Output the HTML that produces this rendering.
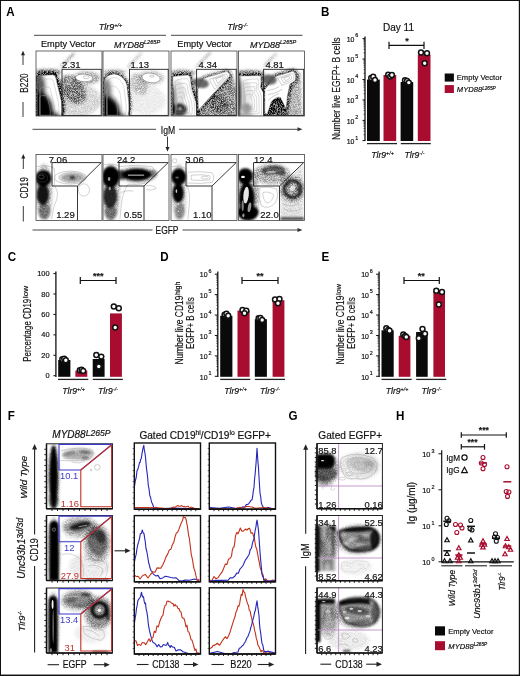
<!DOCTYPE html>
<html><head><meta charset="utf-8"><title>Figure</title>
<style>
html,body{margin:0;padding:0;background:#fff;}
body{width:520px;height:676px;overflow:hidden;font-family:"Liberation Sans", sans-serif;}
#fig{position:absolute;left:0;top:0;width:520px;height:676px;box-sizing:border-box;border:1px solid #111;background:#fff;overflow:hidden;}
svg{position:absolute;left:-1px;top:-1px;filter:blur(0.35px);}
#bb{position:absolute;left:0;right:0;bottom:0;height:1px;background:rgba(17,17,17,0.45);}
#br{position:absolute;top:0;bottom:0;right:0;width:1px;background:rgba(17,17,17,0.2);}
svg text{font-family:"Liberation Sans", sans-serif;}
</style></head><body>
<div id="fig">
<svg width="520" height="676" viewBox="0 0 520 676">
<defs><filter id="sp1" x="-20%" y="-20%" width="140%" height="140%" color-interpolation-filters="sRGB">
<feGaussianBlur in="SourceAlpha" stdDeviation="1.6" result="d"/>
<feTurbulence type="fractalNoise" baseFrequency="1.3" numOctaves="1" seed="4" result="t"/>
<feColorMatrix in="t" type="matrix" values="0 0 0 0 0  0 0 0 0 0  0 0 0 0 0  3.2 0 0 0 -1.1" result="n"/>
<feComposite in="d" in2="n" operator="arithmetic" k1="1.0" k2="0.5" k3="0" k4="0"/>
</filter><filter id="sp2" x="-20%" y="-20%" width="140%" height="140%" color-interpolation-filters="sRGB">
<feGaussianBlur in="SourceAlpha" stdDeviation="1.6" result="d"/>
<feTurbulence type="fractalNoise" baseFrequency="1.3" numOctaves="1" seed="7" result="t"/>
<feColorMatrix in="t" type="matrix" values="0 0 0 0 0  0 0 0 0 0  0 0 0 0 0  3.2 0 0 0 -1.1" result="n"/>
<feComposite in="d" in2="n" operator="arithmetic" k1="1.0" k2="0.5" k3="0" k4="0"/>
</filter><filter id="sp3" x="-20%" y="-20%" width="140%" height="140%" color-interpolation-filters="sRGB">
<feGaussianBlur in="SourceAlpha" stdDeviation="1.6" result="d"/>
<feTurbulence type="fractalNoise" baseFrequency="1.3" numOctaves="1" seed="10" result="t"/>
<feColorMatrix in="t" type="matrix" values="0 0 0 0 0  0 0 0 0 0  0 0 0 0 0  3.2 0 0 0 -1.1" result="n"/>
<feComposite in="d" in2="n" operator="arithmetic" k1="1.0" k2="0.5" k3="0" k4="0"/>
</filter><filter id="sp4" x="-20%" y="-20%" width="140%" height="140%" color-interpolation-filters="sRGB">
<feGaussianBlur in="SourceAlpha" stdDeviation="1.6" result="d"/>
<feTurbulence type="fractalNoise" baseFrequency="1.3" numOctaves="1" seed="13" result="t"/>
<feColorMatrix in="t" type="matrix" values="0 0 0 0 0  0 0 0 0 0  0 0 0 0 0  3.2 0 0 0 -1.1" result="n"/>
<feComposite in="d" in2="n" operator="arithmetic" k1="1.0" k2="0.5" k3="0" k4="0"/>
</filter><filter id="bl05" x="-30%" y="-30%" width="160%" height="160%"><feGaussianBlur stdDeviation="0.5"/></filter><filter id="bl08" x="-30%" y="-30%" width="160%" height="160%"><feGaussianBlur stdDeviation="0.8"/></filter><filter id="bl1" x="-30%" y="-30%" width="160%" height="160%"><feGaussianBlur stdDeviation="1.0"/></filter><filter id="bl15" x="-30%" y="-30%" width="160%" height="160%"><feGaussianBlur stdDeviation="1.5"/></filter><filter id="bl2" x="-30%" y="-30%" width="160%" height="160%"><feGaussianBlur stdDeviation="2.0"/></filter><filter id="bl3" x="-30%" y="-30%" width="160%" height="160%"><feGaussianBlur stdDeviation="3.0"/></filter><clipPath id="cp1"><rect x="36.00" y="51.00" width="66.00" height="65.00"/></clipPath><clipPath id="cp2"><path d="M25,215 Q25,197 45,197 L140,192 Q158,194 162,215 L205,395 Q212,450 203,500 L25,500 Z" transform="translate(34,49) scale(0.13462)"/></clipPath><clipPath id="cp3"><rect x="103.00" y="51.00" width="66.00" height="65.00"/></clipPath><clipPath id="cp4"><path d="M25,240 Q30,190 100,185 Q170,195 192,265 L206,400 Q210,460 200,500 L25,500 Z" transform="translate(101,49) scale(0.13462)"/></clipPath><clipPath id="cp5"><rect x="171.00" y="51.00" width="66.00" height="65.00"/></clipPath><clipPath id="cp6"><path d="M28,215 Q28,200 45,203 L140,193 Q155,195 158,215 L170,300 L200,395 Q210,450 205,500 L28,500 Z" transform="translate(169,49) scale(0.13462)"/></clipPath><clipPath id="cp7"><rect x="238.50" y="51.00" width="66.00" height="65.00"/></clipPath><clipPath id="cp8"><path d="M22,200 L185,198 Q192,240 182,285 L205,330 L208,500 L22,500 Z" transform="translate(236,49) scale(0.13462)"/></clipPath><clipPath id="cp9"><rect x="36.00" y="154.50" width="66.00" height="66.00"/></clipPath><clipPath id="cp10"><rect x="103.00" y="154.50" width="66.00" height="66.00"/></clipPath><clipPath id="cp11"><rect x="171.00" y="154.50" width="66.00" height="66.00"/></clipPath><clipPath id="cp12"><rect x="238.50" y="154.50" width="66.00" height="66.00"/></clipPath><clipPath id="cp13"><rect x="46.50" y="443.80" width="66.00" height="65.00"/></clipPath><clipPath id="cp14"><rect x="46.50" y="515.50" width="66.00" height="65.00"/></clipPath><clipPath id="cp15"><rect x="46.50" y="588.00" width="66.00" height="65.00"/></clipPath><clipPath id="cp16"><rect x="314.80" y="443.50" width="67.60" height="65.20"/></clipPath><clipPath id="cp17"><rect x="314.80" y="515.50" width="67.60" height="65.20"/></clipPath><clipPath id="cp18"><rect x="314.80" y="587.80" width="67.60" height="65.20"/></clipPath></defs>
<text transform="translate(6.30,16.20) scale(0.9,1)" text-anchor="start" fill="#000" stroke="#000" stroke-width="0" style="font-size:12.9px;font-weight:bold;">A</text>
<text transform="translate(320.90,16.20) scale(0.9,1)" text-anchor="start" fill="#000" stroke="#000" stroke-width="0" style="font-size:12.9px;font-weight:bold;">B</text>
<text transform="translate(7.70,260.80) scale(0.9,1)" text-anchor="start" fill="#000" stroke="#000" stroke-width="0" style="font-size:12.9px;font-weight:bold;">C</text>
<text transform="translate(160.30,260.80) scale(0.9,1)" text-anchor="start" fill="#000" stroke="#000" stroke-width="0" style="font-size:12.9px;font-weight:bold;">D</text>
<text transform="translate(321.50,260.80) scale(0.9,1)" text-anchor="start" fill="#000" stroke="#000" stroke-width="0" style="font-size:12.9px;font-weight:bold;">E</text>
<text transform="translate(7.80,420.30) scale(0.9,1)" text-anchor="start" fill="#000" stroke="#000" stroke-width="0" style="font-size:12.9px;font-weight:bold;">F</text>
<text transform="translate(288.40,420.30) scale(0.9,1)" text-anchor="start" fill="#000" stroke="#000" stroke-width="0" style="font-size:12.9px;font-weight:bold;">G</text>
<text transform="translate(395.90,420.30) scale(0.9,1)" text-anchor="start" fill="#000" stroke="#000" stroke-width="0" style="font-size:12.9px;font-weight:bold;">H</text>
<text transform="translate(98.80,30.30)" text-anchor="start" fill="#111" stroke="#111" stroke-width="0.18" style="font-size:9.0px;font-style:italic;"><tspan dy="0.00">Tlr9</tspan><tspan dy="-3.24" style="font-size:5.58px">+/+</tspan></text>
<text transform="translate(227.20,30.30)" text-anchor="start" fill="#111" stroke="#111" stroke-width="0.18" style="font-size:9.0px;font-style:italic;"><tspan dy="0.00">Tlr9</tspan><tspan dy="-3.24" style="font-size:5.58px">-/-</tspan></text>
<line x1="34.00" y1="35.30" x2="166.00" y2="35.30" stroke="#333" stroke-width="0.9" stroke-linecap="butt"/>
<line x1="171.00" y1="35.30" x2="302.50" y2="35.30" stroke="#333" stroke-width="0.9" stroke-linecap="butt"/>
<text transform="translate(68.30,46.60)" text-anchor="middle" fill="#111" stroke="#111" stroke-width="0.18" style="font-size:9.2px;">Empty Vector</text>
<text transform="translate(114.00,47.50)" text-anchor="start" fill="#111" stroke="#111" stroke-width="0.18" style="font-size:9.0px;font-style:italic;"><tspan dy="0.00">MYD88</tspan><tspan dy="-3.24" style="font-size:5.58px">L265P</tspan></text>
<text transform="translate(204.60,46.60)" text-anchor="middle" fill="#111" stroke="#111" stroke-width="0.18" style="font-size:9.2px;">Empty Vector</text>
<text transform="translate(250.00,47.50)" text-anchor="start" fill="#111" stroke="#111" stroke-width="0.18" style="font-size:9.0px;font-style:italic;"><tspan dy="0.00">MYD88</tspan><tspan dy="-3.24" style="font-size:5.58px">L265P</tspan></text>
<text transform="translate(28.20,83.00) rotate(-90) scale(0.74,1)" text-anchor="middle" fill="#111" stroke="#111" stroke-width="0.18" style="font-size:11.2px;">B220</text>
<line x1="23.00" y1="65.00" x2="23.00" y2="54.20" stroke="#222" stroke-width="0.9" stroke-linecap="butt"/>
<path d="M23.00,50.70 L21.00,55.20 L25.00,55.20Z" fill="#222"/>
<line x1="23.00" y1="102.00" x2="23.00" y2="117.00" stroke="#222" stroke-width="0.9" stroke-linecap="butt"/>
<text transform="translate(28.30,187.80) rotate(-90) scale(0.74,1)" text-anchor="middle" fill="#111" stroke="#111" stroke-width="0.18" style="font-size:11.2px;">CD19</text>
<line x1="23.30" y1="169.00" x2="23.30" y2="157.60" stroke="#222" stroke-width="0.9" stroke-linecap="butt"/>
<path d="M23.30,154.10 L21.30,158.60 L25.30,158.60Z" fill="#222"/>
<line x1="23.30" y1="206.00" x2="23.30" y2="221.50" stroke="#222" stroke-width="0.9" stroke-linecap="butt"/>
<line x1="32.50" y1="129.30" x2="156.00" y2="129.30" stroke="#333" stroke-width="0.9" stroke-linecap="butt"/>
<text transform="translate(168.00,133.80) scale(0.8,1)" text-anchor="middle" fill="#111" stroke="#111" stroke-width="0.18" style="font-size:10.8px;">IgM</text>
<line x1="179.00" y1="129.30" x2="298.50" y2="129.30" stroke="#333" stroke-width="0.9" stroke-linecap="butt"/>
<path d="M302.50,129.30 L297.50,127.30 L297.50,131.30Z" fill="#333"/>
<line x1="167.50" y1="136.50" x2="167.50" y2="148.00" stroke="#222" stroke-width="0.9" stroke-linecap="butt"/>
<path d="M167.50,151.50 L165.50,147.00 L169.50,147.00Z" fill="#222"/>
<line x1="32.50" y1="230.00" x2="152.50" y2="230.00" stroke="#333" stroke-width="0.9" stroke-linecap="butt"/>
<text transform="translate(167.00,234.20) scale(0.78,1)" text-anchor="middle" fill="#111" stroke="#111" stroke-width="0.18" style="font-size:10.8px;">EGFP</text>
<line x1="182.50" y1="230.00" x2="298.50" y2="230.00" stroke="#333" stroke-width="0.9" stroke-linecap="butt"/>
<path d="M302.50,230.00 L297.50,228.00 L297.50,232.00Z" fill="#333"/>
<g clip-path="url(#cp1)"><g filter="url(#sp1)"><g transform="translate(34,49) scale(0.13462)"><path d="M25,215 Q25,197 45,197 L140,192 Q158,194 162,215 L205,395 Q212,450 203,500 L25,500 Z" fill="#000" fill-opacity="0.0" stroke="#000" stroke-width="5" vector-effect="non-scaling-stroke" stroke-linejoin="round" stroke-opacity="0.9"/><ellipse cx="290" cy="300" rx="80" ry="120" fill="#000" fill-opacity="0.4" transform="rotate(-35 290 300)"/><ellipse cx="390" cy="215" rx="100" ry="50" fill="#000" fill-opacity="0.28"/><ellipse cx="330" cy="380" rx="170" ry="120" fill="#000" fill-opacity="0.15"/><ellipse cx="100" cy="172" rx="100" ry="22" fill="#000" fill-opacity="0.55"/><path d="M200,135 L300,30" fill="#000" fill-opacity="0" stroke="#000" stroke-width="1.5" vector-effect="non-scaling-stroke" stroke-linejoin="round" stroke-opacity="0.5"/></g></g><g><g transform="translate(34,49) scale(0.13462)"><path d="M25,215 Q25,197 45,197 L140,192 Q158,194 162,215 L205,395 Q212,450 203,500 L25,500 Z" fill="#fff" fill-opacity="1.0" stroke="#777" stroke-width="0.5" vector-effect="non-scaling-stroke" stroke-linejoin="round"/></g></g><g filter="url(#bl2)" clip-path="url(#cp2)"><g transform="translate(34,49) scale(0.13462)"><ellipse cx="30" cy="470" rx="110" ry="150" fill="#000" fill-opacity="1.0"/><ellipse cx="40" cy="300" rx="42" ry="120" fill="#000" fill-opacity="0.7"/><ellipse cx="20" cy="520" rx="180" ry="70" fill="#000" fill-opacity="0.9"/></g></g><g><g transform="translate(34,49) scale(0.13462)"><path d="M45,240 Q50,222 125,222 Q142,225 146,245 L182,400 Q190,450 182,492 L45,492 Z" fill="none" stroke="#aaa" stroke-width="0.4" vector-effect="non-scaling-stroke" transform="translate(40 500) scale(1.0) translate(-40 -500)"/><path d="M45,240 Q50,222 125,222 Q142,225 146,245 L182,400 Q190,450 182,492 L45,492 Z" fill="none" stroke="#aaa" stroke-width="0.4" vector-effect="non-scaling-stroke" transform="translate(40 500) scale(0.78) translate(-40 -500)"/><path d="M45,240 Q50,222 125,222 Q142,225 146,245 L182,400 Q190,450 182,492 L45,492 Z" fill="none" stroke="#aaa" stroke-width="0.4" vector-effect="non-scaling-stroke" transform="translate(40 500) scale(0.56) translate(-40 -500)"/></g></g><g><g transform="translate(34,49) scale(0.13462)"><ellipse cx="372" cy="215" rx="64" ry="28" fill="#fff" fill-opacity="1.0" stroke="#666" stroke-width="0.5" vector-effect="non-scaling-stroke" transform="rotate(4 372 215)"/><ellipse cx="388" cy="210" rx="22" ry="11" fill="none" fill-opacity="1.0" stroke="#888" stroke-width="0.45" vector-effect="non-scaling-stroke"/></g></g></g>
<rect x="36.00" y="51.00" width="66.00" height="65.00" fill="none" stroke="#444" stroke-width="0.8" />
<rect x="62.00" y="69.30" width="39.20" height="46.10" fill="none" stroke="#222" stroke-width="0.9" />
<text transform="translate(80.60,67.90)" text-anchor="end" fill="#111" stroke="#111" stroke-width="0.18" style="font-size:9.5px;">2.31</text>
<g clip-path="url(#cp3)"><g filter="url(#sp2)"><g transform="translate(101,49) scale(0.13462)"><path d="M25,240 Q30,190 100,185 Q170,195 192,265 L206,400 Q210,460 200,500 L25,500 Z" fill="#000" fill-opacity="0.0" stroke="#000" stroke-width="4" vector-effect="non-scaling-stroke" stroke-linejoin="round" stroke-opacity="0.8"/><ellipse cx="280" cy="260" rx="60" ry="85" fill="#000" fill-opacity="0.2" transform="rotate(-30 280 260)"/><ellipse cx="370" cy="215" rx="100" ry="55" fill="#000" fill-opacity="0.18"/><ellipse cx="330" cy="380" rx="150" ry="110" fill="#000" fill-opacity="0.07"/><ellipse cx="100" cy="170" rx="90" ry="18" fill="#000" fill-opacity="0.3"/><path d="M200,135 L300,30" fill="#000" fill-opacity="0" stroke="#000" stroke-width="1.5" vector-effect="non-scaling-stroke" stroke-linejoin="round" stroke-opacity="0.4"/></g></g><g><g transform="translate(101,49) scale(0.13462)"><path d="M25,240 Q30,190 100,185 Q170,195 192,265 L206,400 Q210,460 200,500 L25,500 Z" fill="#fff" fill-opacity="1.0" stroke="#777" stroke-width="0.5" vector-effect="non-scaling-stroke" stroke-linejoin="round"/></g></g><g filter="url(#bl2)" clip-path="url(#cp4)"><g transform="translate(101,49) scale(0.13462)"><ellipse cx="30" cy="480" rx="110" ry="130" fill="#000" fill-opacity="1.0"/><ellipse cx="40" cy="330" rx="36" ry="110" fill="#000" fill-opacity="0.55"/><ellipse cx="20" cy="520" rx="170" ry="60" fill="#000" fill-opacity="0.9"/></g></g><g><g transform="translate(101,49) scale(0.13462)"><path d="M45,260 Q50,215 100,210 Q150,218 170,280 L185,400 Q190,450 182,492 L45,492 Z" fill="none" stroke="#aaa" stroke-width="0.4" vector-effect="non-scaling-stroke" transform="translate(40 500) scale(1.0) translate(-40 -500)"/><path d="M45,260 Q50,215 100,210 Q150,218 170,280 L185,400 Q190,450 182,492 L45,492 Z" fill="none" stroke="#aaa" stroke-width="0.4" vector-effect="non-scaling-stroke" transform="translate(40 500) scale(0.78) translate(-40 -500)"/><path d="M45,260 Q50,215 100,210 Q150,218 170,280 L185,400 Q190,450 182,492 L45,492 Z" fill="none" stroke="#aaa" stroke-width="0.4" vector-effect="non-scaling-stroke" transform="translate(40 500) scale(0.56) translate(-40 -500)"/></g></g><g><g transform="translate(101,49) scale(0.13462)"><ellipse cx="372" cy="215" rx="68" ry="35" fill="#fff" fill-opacity="1.0" stroke="#666" stroke-width="0.5" vector-effect="non-scaling-stroke" transform="rotate(8 372 215)"/><ellipse cx="378" cy="202" rx="16" ry="8" fill="none" fill-opacity="1.0" stroke="#888" stroke-width="0.45" vector-effect="non-scaling-stroke"/><ellipse cx="280" cy="312" rx="18" ry="7" fill="#fff" fill-opacity="1.0" stroke="#999" stroke-width="0.4" vector-effect="non-scaling-stroke" transform="rotate(-35 280 312)"/></g></g></g>
<rect x="103.00" y="51.00" width="66.00" height="65.00" fill="none" stroke="#444" stroke-width="0.8" />
<rect x="129.50" y="69.30" width="38.70" height="46.10" fill="none" stroke="#222" stroke-width="0.9" />
<text transform="translate(149.00,67.90)" text-anchor="end" fill="#111" stroke="#111" stroke-width="0.18" style="font-size:9.5px;">1.13</text>
<g clip-path="url(#cp5)"><g filter="url(#sp3)"><g transform="translate(169,49) scale(0.13462)"><path d="M28,215 Q28,200 45,203 L140,193 Q155,195 158,215 L170,300 L200,395 Q210,450 205,500 L28,500 Z" fill="#000" fill-opacity="0.0" stroke="#000" stroke-width="4" vector-effect="non-scaling-stroke" stroke-linejoin="round" stroke-opacity="0.8"/><path d="M330,330 L465,185 L500,300 L500,500 L215,500 L218,455 Z" fill="#000" fill-opacity="0.42"/><ellipse cx="360" cy="400" rx="60" ry="90" fill="#000" fill-opacity="0.25" transform="rotate(-42 360 400)"/><path d="M258,218 L425,168 Q455,175 450,205 L330,330 L218,455 L214,300 Z" fill="#000" fill-opacity="0" stroke="#000" stroke-width="4" vector-effect="non-scaling-stroke" stroke-linejoin="round" stroke-opacity="0.6"/><ellipse cx="100" cy="175" rx="100" ry="20" fill="#000" fill-opacity="0.4"/><path d="M200,135 L310,25" fill="#000" fill-opacity="0" stroke="#000" stroke-width="1.5" vector-effect="non-scaling-stroke" stroke-linejoin="round" stroke-opacity="0.4"/></g></g><g><g transform="translate(169,49) scale(0.13462)"><path d="M28,215 Q28,200 45,203 L140,193 Q155,195 158,215 L170,300 L200,395 Q210,450 205,500 L28,500 Z" fill="#fff" fill-opacity="1.0" stroke="#777" stroke-width="0.5" vector-effect="non-scaling-stroke" stroke-linejoin="round"/><path d="M258,218 L425,168 Q455,175 450,205 L330,330 L218,455 L214,300 Z" fill="#fff" fill-opacity="1.0" stroke="#777" stroke-width="0.5" vector-effect="non-scaling-stroke" stroke-linejoin="round"/></g></g><g filter="url(#bl15)" clip-path="url(#cp6)"><g transform="translate(169,49) scale(0.13462)"><ellipse cx="75" cy="452" rx="58" ry="48" fill="#000" fill-opacity="0.9"/><ellipse cx="18" cy="390" rx="22" ry="120" fill="#000" fill-opacity="0.85"/><ellipse cx="60" cy="330" rx="60" ry="100" fill="#000" fill-opacity="0.12"/></g></g><g filter="url(#bl08)"><g transform="translate(169,49) scale(0.13462)"><ellipse cx="82" cy="442" rx="15" ry="12" fill="#e8e8e8" fill-opacity="0.9"/></g></g><g filter="url(#bl08)"><g transform="translate(169,49) scale(0.13462)"><ellipse cx="235" cy="253" rx="62" ry="36" fill="#555" fill-opacity="0.9" transform="rotate(10 235 253)"/></g></g><g><g transform="translate(169,49) scale(0.13462)"><path d="M45,245 Q45,224 130,220 Q146,224 150,245 Q155,300 166,325 Q185,370 188,400 Q196,450 190,492 L45,492 Z" fill="none" stroke="#a5a5a5" stroke-width="0.4" vector-effect="non-scaling-stroke" transform="translate(70 430) scale(1.0) translate(-70 -430)"/><path d="M45,245 Q45,224 130,220 Q146,224 150,245 Q155,300 166,325 Q185,370 188,400 Q196,450 190,492 L45,492 Z" fill="none" stroke="#a5a5a5" stroke-width="0.4" vector-effect="non-scaling-stroke" transform="translate(70 430) scale(0.84) translate(-70 -430)"/><path d="M45,245 Q45,224 130,220 Q146,224 150,245 Q155,300 166,325 Q185,370 188,400 Q196,450 190,492 L45,492 Z" fill="none" stroke="#a5a5a5" stroke-width="0.4" vector-effect="non-scaling-stroke" transform="translate(70 430) scale(0.68) translate(-70 -430)"/><path d="M45,245 Q45,224 130,220 Q146,224 150,245 Q155,300 166,325 Q185,370 188,400 Q196,450 190,492 L45,492 Z" fill="none" stroke="#a5a5a5" stroke-width="0.4" vector-effect="non-scaling-stroke" transform="translate(70 430) scale(0.52) translate(-70 -430)"/><path d="M45,245 Q45,224 130,220 Q146,224 150,245 Q155,300 166,325 Q185,370 188,400 Q196,450 190,492 L45,492 Z" fill="none" stroke="#a5a5a5" stroke-width="0.4" vector-effect="non-scaling-stroke" transform="translate(70 430) scale(0.36) translate(-70 -430)"/></g></g><g><g transform="translate(169,49) scale(0.13462)"><path d="M300,225 L420,185 Q440,190 435,210 L340,300 Z" fill="none" stroke="#999" stroke-width="0.45" vector-effect="non-scaling-stroke" transform="translate(380 220) scale(1.0) translate(-380 -220)"/><path d="M300,225 L420,185 Q440,190 435,210 L340,300 Z" fill="none" stroke="#999" stroke-width="0.45" vector-effect="non-scaling-stroke" transform="translate(380 220) scale(0.7) translate(-380 -220)"/><path d="M300,225 L420,185 Q440,190 435,210 L340,300 Z" fill="none" stroke="#999" stroke-width="0.45" vector-effect="non-scaling-stroke" transform="translate(380 220) scale(0.42) translate(-380 -220)"/></g></g></g>
<rect x="171.00" y="51.00" width="66.00" height="65.00" fill="none" stroke="#444" stroke-width="0.8" />
<rect x="196.60" y="69.30" width="39.60" height="46.10" fill="none" stroke="#222" stroke-width="0.9" />
<text transform="translate(217.10,67.90)" text-anchor="end" fill="#111" stroke="#111" stroke-width="0.18" style="font-size:9.5px;">4.34</text>
<g clip-path="url(#cp7)"><g filter="url(#sp4)"><g transform="translate(236,49) scale(0.13462)"><path d="M22,200 L185,198 Q192,240 182,285 L205,330 L208,500 L22,500 Z" fill="#000" fill-opacity="0.0" stroke="#000" stroke-width="4" vector-effect="non-scaling-stroke" stroke-linejoin="round" stroke-opacity="0.8"/><path d="M292,205 L420,165 Q448,172 442,232 L400,262 L382,350 L372,445 L330,360 Q300,350 262,392 L232,482 L214,480 L214,300 Z" fill="#000" fill-opacity="0" stroke="#000" stroke-width="5" vector-effect="non-scaling-stroke" stroke-linejoin="round" stroke-opacity="0.7"/><path d="M262,392 Q300,350 330,360 L372,445 L395,500 L232,500 Z" fill="#000" fill-opacity="0.7"/><path d="M442,175 L480,180 L490,500 L395,500 L372,445 L382,350 L400,262 L442,232 Z" fill="#000" fill-opacity="0.28"/><ellipse cx="100" cy="178" rx="110" ry="20" fill="#000" fill-opacity="0.5"/><path d="M210,125 L300,35" fill="#000" fill-opacity="0" stroke="#000" stroke-width="1.5" vector-effect="non-scaling-stroke" stroke-linejoin="round" stroke-opacity="0.4"/></g></g><g><g transform="translate(236,49) scale(0.13462)"><path d="M22,200 L185,198 Q192,240 182,285 L205,330 L208,500 L22,500 Z" fill="#fff" fill-opacity="1.0" stroke="#777" stroke-width="0.5" vector-effect="non-scaling-stroke" stroke-linejoin="round"/><path d="M292,205 L420,165 Q448,172 442,232 L400,262 L382,350 L372,445 L330,360 Q300,350 262,392 L232,482 L214,480 L214,300 Z" fill="#fff" fill-opacity="1.0" stroke="#777" stroke-width="0.5" vector-effect="non-scaling-stroke" stroke-linejoin="round"/></g></g><g filter="url(#bl15)" clip-path="url(#cp8)"><g transform="translate(236,49) scale(0.13462)"><ellipse cx="16" cy="350" rx="22" ry="160" fill="#000" fill-opacity="0.8"/><ellipse cx="80" cy="440" rx="38" ry="36" fill="#000" fill-opacity="0.4"/><ellipse cx="60" cy="490" rx="70" ry="14" fill="#000" fill-opacity="0.35"/><ellipse cx="60" cy="330" rx="60" ry="100" fill="#000" fill-opacity="0.1"/></g></g><g filter="url(#bl08)"><g transform="translate(236,49) scale(0.13462)"><ellipse cx="245" cy="228" rx="58" ry="38" fill="#555" fill-opacity="0.9" transform="rotate(5 245 228)"/></g></g><g><g transform="translate(236,49) scale(0.13462)"><path d="M55,240 Q55,224 165,222 Q174,250 162,290 Q186,330 188,350 L190,492 L55,492 Z" fill="none" stroke="#a5a5a5" stroke-width="0.4" vector-effect="non-scaling-stroke" transform="translate(80 400) scale(1.0) translate(-80 -400)"/><path d="M55,240 Q55,224 165,222 Q174,250 162,290 Q186,330 188,350 L190,492 L55,492 Z" fill="none" stroke="#a5a5a5" stroke-width="0.4" vector-effect="non-scaling-stroke" transform="translate(80 400) scale(0.84) translate(-80 -400)"/><path d="M55,240 Q55,224 165,222 Q174,250 162,290 Q186,330 188,350 L190,492 L55,492 Z" fill="none" stroke="#a5a5a5" stroke-width="0.4" vector-effect="non-scaling-stroke" transform="translate(80 400) scale(0.68) translate(-80 -400)"/><path d="M55,240 Q55,224 165,222 Q174,250 162,290 Q186,330 188,350 L190,492 L55,492 Z" fill="none" stroke="#a5a5a5" stroke-width="0.4" vector-effect="non-scaling-stroke" transform="translate(80 400) scale(0.52) translate(-80 -400)"/><path d="M55,240 Q55,224 165,222 Q174,250 162,290 Q186,330 188,350 L190,492 L55,492 Z" fill="none" stroke="#a5a5a5" stroke-width="0.4" vector-effect="non-scaling-stroke" transform="translate(80 400) scale(0.36) translate(-80 -400)"/></g></g><g><g transform="translate(236,49) scale(0.13462)"><path d="M310,215 L415,182 Q435,188 430,225 L395,250 L340,270 Z" fill="none" stroke="#999" stroke-width="0.45" vector-effect="non-scaling-stroke" transform="translate(380 215) scale(1.0) translate(-380 -215)"/><path d="M310,215 L415,182 Q435,188 430,225 L395,250 L340,270 Z" fill="none" stroke="#999" stroke-width="0.45" vector-effect="non-scaling-stroke" transform="translate(380 215) scale(0.65) translate(-380 -215)"/><path d="M310,215 L415,182 Q435,188 430,225 L395,250 L340,270 Z" fill="none" stroke="#999" stroke-width="0.45" vector-effect="non-scaling-stroke" transform="translate(380 215) scale(0.35) translate(-380 -215)"/></g></g><g><g transform="translate(236,49) scale(0.13462)"><path d="M230,310 Q290,300 320,280 M235,340 Q300,330 345,300 M240,380 Q270,350 320,330" fill="none" fill-opacity="1.0" stroke="#999" stroke-width="0.45" vector-effect="non-scaling-stroke" stroke-linejoin="round"/></g></g></g>
<rect x="238.50" y="51.00" width="66.00" height="65.00" fill="none" stroke="#444" stroke-width="0.8" />
<rect x="263.60" y="69.30" width="40.10" height="46.10" fill="none" stroke="#222" stroke-width="0.9" />
<text transform="translate(283.90,67.90)" text-anchor="end" fill="#111" stroke="#111" stroke-width="0.18" style="font-size:9.5px;">4.81</text>
<g clip-path="url(#cp9)"><g filter="url(#sp1)"><g transform="translate(34,152) scale(0.13462)"><ellipse cx="75" cy="300" rx="60" ry="210" fill="#000" fill-opacity="0.25"/><ellipse cx="285" cy="190" rx="100" ry="38" fill="#000" fill-opacity="0.14"/></g></g><g filter="url(#bl1)"><g transform="translate(34,152) scale(0.13462)"><ellipse cx="70" cy="195" rx="60" ry="60" fill="#000" fill-opacity="1.0"/><ellipse cx="66" cy="315" rx="46" ry="80" fill="#000" fill-opacity="0.9"/><ellipse cx="78" cy="440" rx="45" ry="60" fill="#000" fill-opacity="0.4"/><ellipse cx="285" cy="190" rx="85" ry="30" fill="#000" fill-opacity="0.26"/></g></g><g filter="url(#bl08)"><g transform="translate(34,152) scale(0.13462)"><ellipse cx="285" cy="190" rx="20" ry="14" fill="#000" fill-opacity="0.7"/></g></g><g><g transform="translate(34,152) scale(0.13462)"><ellipse cx="55" cy="185" rx="22" ry="14" fill="none" fill-opacity="1.0" stroke="#777" stroke-width="0.5" vector-effect="non-scaling-stroke"/><ellipse cx="62" cy="192" rx="40" ry="32" fill="none" fill-opacity="1.0" stroke="#555" stroke-width="0.4" vector-effect="non-scaling-stroke"/><path d="M20,110 Q90,90 150,120 Q160,180 150,250 Q200,300 150,400 L130,500" fill="none" fill-opacity="1.0" stroke="#9a9a9a" stroke-width="0.45" vector-effect="non-scaling-stroke" stroke-linejoin="round"/><ellipse cx="270" cy="190" rx="120" ry="48" fill="none" fill-opacity="1.0" stroke="#9a9a9a" stroke-width="0.45" vector-effect="non-scaling-stroke"/><ellipse cx="280" cy="190" rx="95" ry="36" fill="none" fill-opacity="1.0" stroke="#9a9a9a" stroke-width="0.45" vector-effect="non-scaling-stroke"/><ellipse cx="285" cy="190" rx="60" ry="24" fill="none" fill-opacity="1.0" stroke="#9a9a9a" stroke-width="0.45" vector-effect="non-scaling-stroke"/><ellipse cx="370" cy="282" rx="42" ry="46" fill="none" fill-opacity="1.0" stroke="#9a9a9a" stroke-width="0.45" vector-effect="non-scaling-stroke"/></g></g></g>
<rect x="36.00" y="154.50" width="66.00" height="66.00" fill="none" stroke="#444" stroke-width="0.8" />
<path d="M52,162.6 L101.2,162.6 L77.5,186 L52,186 Z M77.5,186 L77.5,220.5" fill="none" stroke="#222" stroke-width="0.9"/>
<text transform="translate(48.70,163.40)" text-anchor="start" fill="#111" stroke="#111" stroke-width="0.18" style="font-size:9.5px;">7.06</text>
<text transform="translate(56.20,218.20)" text-anchor="start" fill="#111" stroke="#111" stroke-width="0.18" style="font-size:9.5px;">1.29</text>
<g clip-path="url(#cp10)"><g filter="url(#sp2)"><g transform="translate(101,152) scale(0.13462)"><ellipse cx="75" cy="300" rx="65" ry="210" fill="#000" fill-opacity="0.25"/><ellipse cx="270" cy="170" rx="140" ry="60" fill="#000" fill-opacity="0.25"/></g></g><g filter="url(#bl1)"><g transform="translate(101,152) scale(0.13462)"><ellipse cx="72" cy="185" rx="64" ry="80" fill="#000" fill-opacity="1.0"/><ellipse cx="68" cy="330" rx="52" ry="85" fill="#000" fill-opacity="0.8"/><ellipse cx="72" cy="450" rx="46" ry="55" fill="#000" fill-opacity="0.42"/><ellipse cx="265" cy="168" rx="108" ry="46" fill="#000" fill-opacity="1.0"/><ellipse cx="150" cy="170" rx="45" ry="36" fill="#000" fill-opacity="0.7"/><ellipse cx="385" cy="160" rx="34" ry="28" fill="#000" fill-opacity="0.4"/></g></g><g filter="url(#bl05)"><g transform="translate(101,152) scale(0.13462)"><path d="M200,172 L320,172" fill="none" fill-opacity="1.0" stroke="#fff" stroke-width="0.8" vector-effect="non-scaling-stroke" stroke-linejoin="round"/><ellipse cx="60" cy="200" rx="10" ry="14" fill="#fff" fill-opacity="0.6"/><ellipse cx="65" cy="270" rx="8" ry="14" fill="#fff" fill-opacity="0.5"/></g></g><g><g transform="translate(101,152) scale(0.13462)"><path d="M20,95 Q100,80 140,110 Q250,90 380,110 Q420,150 390,200 Q330,250 200,240 Q160,300 150,400 L140,500" fill="none" fill-opacity="1.0" stroke="#9a9a9a" stroke-width="0.45" vector-effect="non-scaling-stroke" stroke-linejoin="round"/><path d="M330,250 Q400,245 410,270 Q380,290 340,280" fill="none" fill-opacity="1.0" stroke="#9a9a9a" stroke-width="0.45" vector-effect="non-scaling-stroke" stroke-linejoin="round"/><path d="M150,300 Q200,280 240,290" fill="none" fill-opacity="1.0" stroke="#9a9a9a" stroke-width="0.45" vector-effect="non-scaling-stroke" stroke-linejoin="round"/></g></g></g>
<rect x="103.00" y="154.50" width="66.00" height="66.00" fill="none" stroke="#444" stroke-width="0.8" />
<path d="M119,162.6 L168.2,162.6 L144,186 L119,186 Z M144,186 L144,220.5" fill="none" stroke="#222" stroke-width="0.9"/>
<text transform="translate(116.90,163.40)" text-anchor="start" fill="#111" stroke="#111" stroke-width="0.18" style="font-size:9.5px;">24.2</text>
<text transform="translate(123.90,218.20)" text-anchor="start" fill="#111" stroke="#111" stroke-width="0.18" style="font-size:9.5px;">0.55</text>
<g clip-path="url(#cp11)"><g filter="url(#sp3)"><g transform="translate(169,152) scale(0.13462)"><ellipse cx="72" cy="300" rx="55" ry="210" fill="#000" fill-opacity="0.2"/></g></g><g filter="url(#bl1)"><g transform="translate(169,152) scale(0.13462)"><ellipse cx="72" cy="185" rx="56" ry="62" fill="#000" fill-opacity="1.0"/><ellipse cx="68" cy="305" rx="42" ry="72" fill="#000" fill-opacity="1.0"/><ellipse cx="82" cy="440" rx="36" ry="60" fill="#000" fill-opacity="0.35"/></g></g><g filter="url(#bl05)"><g transform="translate(169,152) scale(0.13462)"><ellipse cx="55" cy="290" rx="6" ry="14" fill="#fff" fill-opacity="0.8"/><ellipse cx="60" cy="190" rx="14" ry="8" fill="#fff" fill-opacity="0.35"/><ellipse cx="68" cy="385" rx="6" ry="8" fill="#fff" fill-opacity="0.7"/><ellipse cx="70" cy="440" rx="5" ry="6" fill="#fff" fill-opacity="0.7"/></g></g><g><g transform="translate(169,152) scale(0.13462)"><path d="M140,150 Q240,140 320,155 Q345,190 320,225 Q240,240 140,230" fill="none" fill-opacity="1.0" stroke="#9a9a9a" stroke-width="0.45" vector-effect="non-scaling-stroke" stroke-linejoin="round"/><path d="M165,172 Q240,165 300,175 Q312,190 300,208 Q240,215 165,208 Z" fill="none" fill-opacity="1.0" stroke="#9a9a9a" stroke-width="0.45" vector-effect="non-scaling-stroke" stroke-linejoin="round"/><ellipse cx="265" cy="190" rx="28" ry="10" fill="none" fill-opacity="1.0" stroke="#9a9a9a" stroke-width="0.45" vector-effect="non-scaling-stroke"/><ellipse cx="42" cy="65" rx="16" ry="16" fill="none" fill-opacity="1.0" stroke="#9a9a9a" stroke-width="0.45" vector-effect="non-scaling-stroke"/><path d="M20,110 Q100,95 130,130 L135,250 Q160,300 150,400 L140,500" fill="none" fill-opacity="1.0" stroke="#9a9a9a" stroke-width="0.45" vector-effect="non-scaling-stroke" stroke-linejoin="round"/></g></g></g>
<rect x="171.00" y="154.50" width="66.00" height="66.00" fill="none" stroke="#444" stroke-width="0.8" />
<path d="M186,162.6 L236.2,162.6 L212,186 L186,186 Z M212,186 L212,220.5" fill="none" stroke="#222" stroke-width="0.9"/>
<text transform="translate(185.20,163.40)" text-anchor="start" fill="#111" stroke="#111" stroke-width="0.18" style="font-size:9.5px;">3.06</text>
<text transform="translate(193.00,218.20)" text-anchor="start" fill="#111" stroke="#111" stroke-width="0.18" style="font-size:9.5px;">1.10</text>
<g clip-path="url(#cp12)"><g filter="url(#sp4)"><g transform="translate(236,152) scale(0.13462)"><path d="M330,260 L500,90 L500,500 L330,500 Z" fill="#000" fill-opacity="0.12"/><ellipse cx="265" cy="165" rx="140" ry="75" fill="#000" fill-opacity="0.3"/><ellipse cx="420" cy="275" rx="95" ry="95" fill="#000" fill-opacity="0.3"/><ellipse cx="90" cy="330" rx="80" ry="200" fill="#000" fill-opacity="0.3"/></g></g><g filter="url(#bl1)"><g transform="translate(236,152) scale(0.13462)"><ellipse cx="68" cy="180" rx="56" ry="60" fill="#000" fill-opacity="1.0"/><ellipse cx="80" cy="350" rx="58" ry="125" fill="#000" fill-opacity="1.0"/><ellipse cx="88" cy="450" rx="80" ry="58" fill="#000" fill-opacity="1.0"/><path d="M330,495 L505,495" fill="none" fill-opacity="1.0" stroke="#000" stroke-width="2.0" vector-effect="non-scaling-stroke" stroke-linejoin="round"/></g></g><g filter="url(#bl08)" opacity="0.85"><g transform="translate(236,152) scale(0.13462)"><path d="M195,135 Q260,95 335,115 Q370,140 350,170 Q300,150 250,160 Q215,170 195,135 Z" fill="#000" fill-opacity="0.55" stroke="#000" stroke-width="1.3" vector-effect="non-scaling-stroke" stroke-linejoin="round"/><ellipse cx="420" cy="275" rx="62" ry="62" fill="none" fill-opacity="1.0" stroke="#000" stroke-width="2.6" vector-effect="non-scaling-stroke"/><ellipse cx="462" cy="280" rx="12" ry="14" fill="#000" fill-opacity="0.9"/><ellipse cx="400" cy="335" rx="16" ry="10" fill="#000" fill-opacity="0.8" transform="rotate(30 400 335)"/><ellipse cx="385" cy="240" rx="10" ry="16" fill="#000" fill-opacity="0.6"/></g></g><g filter="url(#bl05)"><g transform="translate(236,152) scale(0.13462)"><ellipse cx="52" cy="185" rx="14" ry="9" fill="#fff" fill-opacity="0.95"/><ellipse cx="75" cy="320" rx="20" ry="62" fill="#fff" fill-opacity="0.9" transform="rotate(6 75 320)"/><ellipse cx="100" cy="410" rx="12" ry="36" fill="#fff" fill-opacity="0.6" transform="rotate(10 100 410)"/><ellipse cx="50" cy="400" rx="8" ry="40" fill="#fff" fill-opacity="0.5"/><ellipse cx="55" cy="470" rx="8" ry="14" fill="#fff" fill-opacity="0.6"/><ellipse cx="420" cy="270" rx="18" ry="22" fill="#fff" fill-opacity="0.7"/><ellipse cx="260" cy="150" rx="40" ry="8" fill="#fff" fill-opacity="0.5" transform="rotate(-5 260 150)"/></g></g><g><g transform="translate(236,152) scale(0.13462)"><path d="M170,270 Q230,250 300,275 Q320,330 290,380 Q240,430 190,400 Q160,340 170,270 Z M200,300 Q250,290 280,320 Q270,370 230,380 Q195,350 200,300" fill="none" fill-opacity="1.0" stroke="#9a9a9a" stroke-width="0.45" vector-effect="non-scaling-stroke" stroke-linejoin="round"/><path d="M340,380 Q400,420 470,380 M350,420 Q420,460 490,420" fill="none" fill-opacity="1.0" stroke="#9a9a9a" stroke-width="0.45" vector-effect="non-scaling-stroke" stroke-linejoin="round"/></g></g></g>
<rect x="238.50" y="154.50" width="66.00" height="66.00" fill="none" stroke="#444" stroke-width="0.8" />
<path d="M253.5,162.6 L303.7,162.6 L279.5,186 L253.5,186 Z M279.5,186 L279.5,220.5" fill="none" stroke="#222" stroke-width="0.9"/>
<text transform="translate(254.00,163.40)" text-anchor="start" fill="#111" stroke="#111" stroke-width="0.18" style="font-size:9.5px;">12.4</text>
<text transform="translate(260.20,218.20)" text-anchor="start" fill="#111" stroke="#111" stroke-width="0.18" style="font-size:9.5px;">22.0</text>
<text transform="translate(398.50,31.30)" text-anchor="middle" fill="#111" stroke="#111" stroke-width="0.18" style="font-size:10px;">Day 11</text>
<text transform="translate(358.30,37.30)" text-anchor="end" fill="#111" stroke="#111" stroke-width="0.18" style="font-size:5.4px;">6</text>
<text transform="translate(354.30,41.80)" text-anchor="end" fill="#111" stroke="#111" stroke-width="0.18" style="font-size:6.9px;">10</text>
<line x1="362.50" y1="38.60" x2="365.00" y2="38.60" stroke="#111" stroke-width="1.0" stroke-linecap="butt"/>
<text transform="translate(358.30,57.75)" text-anchor="end" fill="#111" stroke="#111" stroke-width="0.18" style="font-size:5.4px;">5</text>
<text transform="translate(354.30,62.25)" text-anchor="end" fill="#111" stroke="#111" stroke-width="0.18" style="font-size:6.9px;">10</text>
<line x1="362.50" y1="59.05" x2="365.00" y2="59.05" stroke="#111" stroke-width="1.0" stroke-linecap="butt"/>
<text transform="translate(358.30,78.20)" text-anchor="end" fill="#111" stroke="#111" stroke-width="0.18" style="font-size:5.4px;">4</text>
<text transform="translate(354.30,82.70)" text-anchor="end" fill="#111" stroke="#111" stroke-width="0.18" style="font-size:6.9px;">10</text>
<line x1="362.50" y1="79.50" x2="365.00" y2="79.50" stroke="#111" stroke-width="1.0" stroke-linecap="butt"/>
<text transform="translate(358.30,98.65)" text-anchor="end" fill="#111" stroke="#111" stroke-width="0.18" style="font-size:5.4px;">3</text>
<text transform="translate(354.30,103.15)" text-anchor="end" fill="#111" stroke="#111" stroke-width="0.18" style="font-size:6.9px;">10</text>
<line x1="362.50" y1="99.95" x2="365.00" y2="99.95" stroke="#111" stroke-width="1.0" stroke-linecap="butt"/>
<text transform="translate(358.30,119.10)" text-anchor="end" fill="#111" stroke="#111" stroke-width="0.18" style="font-size:5.4px;">2</text>
<text transform="translate(354.30,123.60)" text-anchor="end" fill="#111" stroke="#111" stroke-width="0.18" style="font-size:6.9px;">10</text>
<line x1="362.50" y1="120.40" x2="365.00" y2="120.40" stroke="#111" stroke-width="1.0" stroke-linecap="butt"/>
<text transform="translate(358.30,139.55)" text-anchor="end" fill="#111" stroke="#111" stroke-width="0.18" style="font-size:5.4px;">1</text>
<text transform="translate(354.30,144.05)" text-anchor="end" fill="#111" stroke="#111" stroke-width="0.18" style="font-size:6.9px;">10</text>
<line x1="362.50" y1="140.60" x2="365.00" y2="140.60" stroke="#111" stroke-width="1.0" stroke-linecap="butt"/>
<line x1="363.40" y1="52.89" x2="365.00" y2="52.89" stroke="#222" stroke-width="0.6" stroke-linecap="butt"/>
<line x1="363.40" y1="49.29" x2="365.00" y2="49.29" stroke="#222" stroke-width="0.6" stroke-linecap="butt"/>
<line x1="363.40" y1="46.74" x2="365.00" y2="46.74" stroke="#222" stroke-width="0.6" stroke-linecap="butt"/>
<line x1="363.40" y1="44.76" x2="365.00" y2="44.76" stroke="#222" stroke-width="0.6" stroke-linecap="butt"/>
<line x1="363.40" y1="43.14" x2="365.00" y2="43.14" stroke="#222" stroke-width="0.6" stroke-linecap="butt"/>
<line x1="363.40" y1="41.77" x2="365.00" y2="41.77" stroke="#222" stroke-width="0.6" stroke-linecap="butt"/>
<line x1="363.40" y1="40.58" x2="365.00" y2="40.58" stroke="#222" stroke-width="0.6" stroke-linecap="butt"/>
<line x1="363.40" y1="39.54" x2="365.00" y2="39.54" stroke="#222" stroke-width="0.6" stroke-linecap="butt"/>
<line x1="363.40" y1="73.34" x2="365.00" y2="73.34" stroke="#222" stroke-width="0.6" stroke-linecap="butt"/>
<line x1="363.40" y1="69.74" x2="365.00" y2="69.74" stroke="#222" stroke-width="0.6" stroke-linecap="butt"/>
<line x1="363.40" y1="67.19" x2="365.00" y2="67.19" stroke="#222" stroke-width="0.6" stroke-linecap="butt"/>
<line x1="363.40" y1="65.21" x2="365.00" y2="65.21" stroke="#222" stroke-width="0.6" stroke-linecap="butt"/>
<line x1="363.40" y1="63.59" x2="365.00" y2="63.59" stroke="#222" stroke-width="0.6" stroke-linecap="butt"/>
<line x1="363.40" y1="62.22" x2="365.00" y2="62.22" stroke="#222" stroke-width="0.6" stroke-linecap="butt"/>
<line x1="363.40" y1="61.03" x2="365.00" y2="61.03" stroke="#222" stroke-width="0.6" stroke-linecap="butt"/>
<line x1="363.40" y1="59.99" x2="365.00" y2="59.99" stroke="#222" stroke-width="0.6" stroke-linecap="butt"/>
<line x1="363.40" y1="93.79" x2="365.00" y2="93.79" stroke="#222" stroke-width="0.6" stroke-linecap="butt"/>
<line x1="363.40" y1="90.19" x2="365.00" y2="90.19" stroke="#222" stroke-width="0.6" stroke-linecap="butt"/>
<line x1="363.40" y1="87.64" x2="365.00" y2="87.64" stroke="#222" stroke-width="0.6" stroke-linecap="butt"/>
<line x1="363.40" y1="85.66" x2="365.00" y2="85.66" stroke="#222" stroke-width="0.6" stroke-linecap="butt"/>
<line x1="363.40" y1="84.04" x2="365.00" y2="84.04" stroke="#222" stroke-width="0.6" stroke-linecap="butt"/>
<line x1="363.40" y1="82.67" x2="365.00" y2="82.67" stroke="#222" stroke-width="0.6" stroke-linecap="butt"/>
<line x1="363.40" y1="81.48" x2="365.00" y2="81.48" stroke="#222" stroke-width="0.6" stroke-linecap="butt"/>
<line x1="363.40" y1="80.44" x2="365.00" y2="80.44" stroke="#222" stroke-width="0.6" stroke-linecap="butt"/>
<line x1="363.40" y1="114.24" x2="365.00" y2="114.24" stroke="#222" stroke-width="0.6" stroke-linecap="butt"/>
<line x1="363.40" y1="110.64" x2="365.00" y2="110.64" stroke="#222" stroke-width="0.6" stroke-linecap="butt"/>
<line x1="363.40" y1="108.09" x2="365.00" y2="108.09" stroke="#222" stroke-width="0.6" stroke-linecap="butt"/>
<line x1="363.40" y1="106.11" x2="365.00" y2="106.11" stroke="#222" stroke-width="0.6" stroke-linecap="butt"/>
<line x1="363.40" y1="104.49" x2="365.00" y2="104.49" stroke="#222" stroke-width="0.6" stroke-linecap="butt"/>
<line x1="363.40" y1="103.12" x2="365.00" y2="103.12" stroke="#222" stroke-width="0.6" stroke-linecap="butt"/>
<line x1="363.40" y1="101.93" x2="365.00" y2="101.93" stroke="#222" stroke-width="0.6" stroke-linecap="butt"/>
<line x1="363.40" y1="100.89" x2="365.00" y2="100.89" stroke="#222" stroke-width="0.6" stroke-linecap="butt"/>
<line x1="363.40" y1="134.69" x2="365.00" y2="134.69" stroke="#222" stroke-width="0.6" stroke-linecap="butt"/>
<line x1="363.40" y1="131.09" x2="365.00" y2="131.09" stroke="#222" stroke-width="0.6" stroke-linecap="butt"/>
<line x1="363.40" y1="128.54" x2="365.00" y2="128.54" stroke="#222" stroke-width="0.6" stroke-linecap="butt"/>
<line x1="363.40" y1="126.56" x2="365.00" y2="126.56" stroke="#222" stroke-width="0.6" stroke-linecap="butt"/>
<line x1="363.40" y1="124.94" x2="365.00" y2="124.94" stroke="#222" stroke-width="0.6" stroke-linecap="butt"/>
<line x1="363.40" y1="123.57" x2="365.00" y2="123.57" stroke="#222" stroke-width="0.6" stroke-linecap="butt"/>
<line x1="363.40" y1="122.38" x2="365.00" y2="122.38" stroke="#222" stroke-width="0.6" stroke-linecap="butt"/>
<line x1="363.40" y1="121.34" x2="365.00" y2="121.34" stroke="#222" stroke-width="0.6" stroke-linecap="butt"/>
<line x1="365.00" y1="36.50" x2="365.00" y2="141.10" stroke="#111" stroke-width="1.3" stroke-linecap="butt"/>
<rect x="367.00" y="79.60" width="12.80" height="61.40" fill="#0a0a0a" />
<rect x="383.50" y="75.00" width="12.70" height="66.00" fill="#a80c2e" />
<rect x="400.60" y="82.00" width="12.60" height="59.00" fill="#0a0a0a" />
<rect x="417.80" y="54.60" width="12.70" height="86.40" fill="#a80c2e" />
<line x1="367.00" y1="143.60" x2="397.00" y2="143.60" stroke="#222" stroke-width="1.3" stroke-linecap="butt"/>
<line x1="400.80" y1="143.60" x2="430.80" y2="143.60" stroke="#222" stroke-width="1.3" stroke-linecap="butt"/>
<text transform="translate(382.50,157.90)" text-anchor="middle" fill="#111" stroke="#111" stroke-width="0.18" style="font-size:8.6px;font-style:italic;"><tspan dy="0.00">Tlr9</tspan><tspan dy="-3.10" style="font-size:5.33px">+/+</tspan></text>
<text transform="translate(414.50,157.90)" text-anchor="middle" fill="#111" stroke="#111" stroke-width="0.18" style="font-size:8.6px;font-style:italic;"><tspan dy="0.00">Tlr9</tspan><tspan dy="-3.10" style="font-size:5.33px">-/-</tspan></text>
<line x1="389.00" y1="45.40" x2="424.00" y2="45.40" stroke="#111" stroke-width="1.2" stroke-linecap="butt"/>
<line x1="389.00" y1="41.80" x2="389.00" y2="49.00" stroke="#111" stroke-width="1.2" stroke-linecap="butt"/>
<line x1="424.00" y1="41.80" x2="424.00" y2="49.00" stroke="#111" stroke-width="1.2" stroke-linecap="butt"/>
<text transform="translate(407.00,44.20)" text-anchor="middle" fill="#111" stroke="#111" stroke-width="0.18" style="font-size:9px;font-weight:bold;">*</text>
<circle cx="371.20" cy="78.00" r="2.45" fill="#fff" stroke="#111" stroke-width="1.5"/>
<circle cx="373.20" cy="76.80" r="2.45" fill="#fff" stroke="#111" stroke-width="1.5"/>
<circle cx="375.00" cy="80.00" r="2.45" fill="#fff" stroke="#111" stroke-width="1.5"/>
<circle cx="388.20" cy="74.60" r="2.45" fill="#fff" stroke="#111" stroke-width="1.5"/>
<circle cx="390.20" cy="76.60" r="2.45" fill="#fff" stroke="#111" stroke-width="1.5"/>
<circle cx="391.90" cy="75.00" r="2.45" fill="#fff" stroke="#111" stroke-width="1.5"/>
<circle cx="405.00" cy="80.30" r="2.45" fill="#fff" stroke="#111" stroke-width="1.5"/>
<circle cx="407.00" cy="81.00" r="2.45" fill="#fff" stroke="#111" stroke-width="1.5"/>
<circle cx="408.80" cy="82.60" r="2.45" fill="#fff" stroke="#111" stroke-width="1.5"/>
<circle cx="421.00" cy="52.50" r="2.45" fill="#fff" stroke="#111" stroke-width="1.5"/>
<circle cx="427.00" cy="53.20" r="2.45" fill="#fff" stroke="#111" stroke-width="1.5"/>
<circle cx="424.70" cy="63.20" r="2.45" fill="#fff" stroke="#111" stroke-width="1.5"/>
<text transform="translate(340.30,140.00) rotate(-90) scale(0.7681,1)" text-anchor="start" fill="#111" stroke="#111" stroke-width="0.18" style="font-size:11.0px;">Number live EGFP+ B cells</text>
<rect x="444.70" y="73.50" width="9.20" height="8.10" fill="#0a0a0a" />
<text transform="translate(456.80,80.00)" text-anchor="start" fill="#111" stroke="#111" stroke-width="0.18" style="font-size:7.6px;">Empty Vector</text>
<rect x="444.70" y="85.10" width="9.20" height="7.90" fill="#a80c2e" />
<text transform="translate(456.80,92.30)" text-anchor="start" fill="#111" stroke="#111" stroke-width="0.18" style="font-size:7.6px;font-style:italic;"><tspan dy="0.00">MYD88</tspan><tspan dy="-2.74" style="font-size:4.71px">L265P</tspan></text>
<text transform="translate(49.60,276.15)" text-anchor="end" fill="#111" stroke="#111" stroke-width="0.18" style="font-size:7.4px;">100</text>
<line x1="53.40" y1="273.60" x2="55.90" y2="273.60" stroke="#111" stroke-width="1.0" stroke-linecap="butt"/>
<text transform="translate(49.60,296.57)" text-anchor="end" fill="#111" stroke="#111" stroke-width="0.18" style="font-size:7.4px;">80</text>
<line x1="53.40" y1="294.02" x2="55.90" y2="294.02" stroke="#111" stroke-width="1.0" stroke-linecap="butt"/>
<text transform="translate(49.60,316.99)" text-anchor="end" fill="#111" stroke="#111" stroke-width="0.18" style="font-size:7.4px;">60</text>
<line x1="53.40" y1="314.44" x2="55.90" y2="314.44" stroke="#111" stroke-width="1.0" stroke-linecap="butt"/>
<text transform="translate(49.60,337.41)" text-anchor="end" fill="#111" stroke="#111" stroke-width="0.18" style="font-size:7.4px;">40</text>
<line x1="53.40" y1="334.86" x2="55.90" y2="334.86" stroke="#111" stroke-width="1.0" stroke-linecap="butt"/>
<text transform="translate(49.60,357.83)" text-anchor="end" fill="#111" stroke="#111" stroke-width="0.18" style="font-size:7.4px;">20</text>
<line x1="53.40" y1="355.28" x2="55.90" y2="355.28" stroke="#111" stroke-width="1.0" stroke-linecap="butt"/>
<text transform="translate(49.60,378.25)" text-anchor="end" fill="#111" stroke="#111" stroke-width="0.18" style="font-size:7.4px;">0</text>
<line x1="53.40" y1="375.70" x2="55.90" y2="375.70" stroke="#111" stroke-width="1.0" stroke-linecap="butt"/>
<line x1="55.90" y1="271.50" x2="55.90" y2="376.90" stroke="#111" stroke-width="1.3" stroke-linecap="butt"/>
<rect x="58.20" y="360.00" width="12.20" height="16.80" fill="#0a0a0a" />
<rect x="75.40" y="370.60" width="11.90" height="6.20" fill="#a80c2e" />
<rect x="92.70" y="359.00" width="11.90" height="17.80" fill="#0a0a0a" />
<rect x="110.00" y="313.40" width="11.90" height="63.40" fill="#a80c2e" />
<line x1="58.00" y1="379.40" x2="88.30" y2="379.40" stroke="#222" stroke-width="1.3" stroke-linecap="butt"/>
<line x1="92.80" y1="379.40" x2="122.90" y2="379.40" stroke="#222" stroke-width="1.3" stroke-linecap="butt"/>
<text transform="translate(73.50,393.70)" text-anchor="middle" fill="#111" stroke="#111" stroke-width="0.18" style="font-size:8.6px;font-style:italic;"><tspan dy="0.00">Tlr9</tspan><tspan dy="-3.10" style="font-size:5.33px">+/+</tspan></text>
<text transform="translate(108.00,393.70)" text-anchor="middle" fill="#111" stroke="#111" stroke-width="0.18" style="font-size:8.6px;font-style:italic;"><tspan dy="0.00">Tlr9</tspan><tspan dy="-3.10" style="font-size:5.33px">-/-</tspan></text>
<line x1="80.30" y1="280.50" x2="116.00" y2="280.50" stroke="#111" stroke-width="1.2" stroke-linecap="butt"/>
<line x1="80.30" y1="276.90" x2="80.30" y2="284.10" stroke="#111" stroke-width="1.2" stroke-linecap="butt"/>
<line x1="116.00" y1="276.90" x2="116.00" y2="284.10" stroke="#111" stroke-width="1.2" stroke-linecap="butt"/>
<text transform="translate(98.30,279.30)" text-anchor="middle" fill="#111" stroke="#111" stroke-width="0.18" style="font-size:9px;font-weight:bold;">***</text>
<circle cx="62.30" cy="359.30" r="2.45" fill="#fff" stroke="#111" stroke-width="1.5"/>
<circle cx="64.20" cy="358.60" r="2.45" fill="#fff" stroke="#111" stroke-width="1.5"/>
<circle cx="65.80" cy="360.20" r="2.45" fill="#fff" stroke="#111" stroke-width="1.5"/>
<circle cx="79.80" cy="370.30" r="2.45" fill="#fff" stroke="#111" stroke-width="1.5"/>
<circle cx="81.60" cy="369.60" r="2.45" fill="#fff" stroke="#111" stroke-width="1.5"/>
<circle cx="83.20" cy="370.90" r="2.45" fill="#fff" stroke="#111" stroke-width="1.5"/>
<circle cx="96.30" cy="355.00" r="2.45" fill="#fff" stroke="#111" stroke-width="1.5"/>
<circle cx="101.30" cy="356.60" r="2.45" fill="#fff" stroke="#111" stroke-width="1.5"/>
<circle cx="98.80" cy="366.50" r="2.45" fill="#fff" stroke="#111" stroke-width="1.5"/>
<circle cx="113.80" cy="306.50" r="2.45" fill="#fff" stroke="#111" stroke-width="1.5"/>
<circle cx="118.80" cy="308.30" r="2.45" fill="#fff" stroke="#111" stroke-width="1.5"/>
<circle cx="115.20" cy="327.50" r="2.45" fill="#fff" stroke="#111" stroke-width="1.5"/>
<text transform="translate(31.00,361.70) rotate(-90) scale(0.7271,1)" text-anchor="start" fill="#111" stroke="#111" stroke-width="0.18" style="font-size:10.9px;">Percentage CD19</text>
<text transform="translate(27.80,298.20) rotate(-90) scale(1.2912,1)" text-anchor="start" fill="#111" stroke="#111" stroke-width="0.18" style="font-size:6.4px;">low</text>
<text transform="translate(211.50,272.90)" text-anchor="end" fill="#111" stroke="#111" stroke-width="0.18" style="font-size:5.4px;">6</text>
<text transform="translate(207.50,277.40)" text-anchor="end" fill="#111" stroke="#111" stroke-width="0.18" style="font-size:6.9px;">10</text>
<line x1="214.80" y1="274.20" x2="217.80" y2="274.20" stroke="#111" stroke-width="1.0" stroke-linecap="butt"/>
<text transform="translate(211.50,293.32)" text-anchor="end" fill="#111" stroke="#111" stroke-width="0.18" style="font-size:5.4px;">5</text>
<text transform="translate(207.50,297.82)" text-anchor="end" fill="#111" stroke="#111" stroke-width="0.18" style="font-size:6.9px;">10</text>
<line x1="214.80" y1="294.62" x2="217.80" y2="294.62" stroke="#111" stroke-width="1.0" stroke-linecap="butt"/>
<text transform="translate(211.50,313.74)" text-anchor="end" fill="#111" stroke="#111" stroke-width="0.18" style="font-size:5.4px;">4</text>
<text transform="translate(207.50,318.24)" text-anchor="end" fill="#111" stroke="#111" stroke-width="0.18" style="font-size:6.9px;">10</text>
<line x1="214.80" y1="315.04" x2="217.80" y2="315.04" stroke="#111" stroke-width="1.0" stroke-linecap="butt"/>
<text transform="translate(211.50,334.16)" text-anchor="end" fill="#111" stroke="#111" stroke-width="0.18" style="font-size:5.4px;">3</text>
<text transform="translate(207.50,338.66)" text-anchor="end" fill="#111" stroke="#111" stroke-width="0.18" style="font-size:6.9px;">10</text>
<line x1="214.80" y1="335.46" x2="217.80" y2="335.46" stroke="#111" stroke-width="1.0" stroke-linecap="butt"/>
<text transform="translate(211.50,354.58)" text-anchor="end" fill="#111" stroke="#111" stroke-width="0.18" style="font-size:5.4px;">2</text>
<text transform="translate(207.50,359.08)" text-anchor="end" fill="#111" stroke="#111" stroke-width="0.18" style="font-size:6.9px;">10</text>
<line x1="214.80" y1="355.88" x2="217.80" y2="355.88" stroke="#111" stroke-width="1.0" stroke-linecap="butt"/>
<text transform="translate(211.50,375.00)" text-anchor="end" fill="#111" stroke="#111" stroke-width="0.18" style="font-size:5.4px;">1</text>
<text transform="translate(207.50,379.50)" text-anchor="end" fill="#111" stroke="#111" stroke-width="0.18" style="font-size:6.9px;">10</text>
<line x1="214.80" y1="376.30" x2="217.80" y2="376.30" stroke="#111" stroke-width="1.0" stroke-linecap="butt"/>
<line x1="216.20" y1="288.47" x2="217.80" y2="288.47" stroke="#222" stroke-width="0.6" stroke-linecap="butt"/>
<line x1="216.20" y1="284.88" x2="217.80" y2="284.88" stroke="#222" stroke-width="0.6" stroke-linecap="butt"/>
<line x1="216.20" y1="282.33" x2="217.80" y2="282.33" stroke="#222" stroke-width="0.6" stroke-linecap="butt"/>
<line x1="216.20" y1="280.35" x2="217.80" y2="280.35" stroke="#222" stroke-width="0.6" stroke-linecap="butt"/>
<line x1="216.20" y1="278.73" x2="217.80" y2="278.73" stroke="#222" stroke-width="0.6" stroke-linecap="butt"/>
<line x1="216.20" y1="277.36" x2="217.80" y2="277.36" stroke="#222" stroke-width="0.6" stroke-linecap="butt"/>
<line x1="216.20" y1="276.18" x2="217.80" y2="276.18" stroke="#222" stroke-width="0.6" stroke-linecap="butt"/>
<line x1="216.20" y1="275.13" x2="217.80" y2="275.13" stroke="#222" stroke-width="0.6" stroke-linecap="butt"/>
<line x1="216.20" y1="308.89" x2="217.80" y2="308.89" stroke="#222" stroke-width="0.6" stroke-linecap="butt"/>
<line x1="216.20" y1="305.30" x2="217.80" y2="305.30" stroke="#222" stroke-width="0.6" stroke-linecap="butt"/>
<line x1="216.20" y1="302.75" x2="217.80" y2="302.75" stroke="#222" stroke-width="0.6" stroke-linecap="butt"/>
<line x1="216.20" y1="300.77" x2="217.80" y2="300.77" stroke="#222" stroke-width="0.6" stroke-linecap="butt"/>
<line x1="216.20" y1="299.15" x2="217.80" y2="299.15" stroke="#222" stroke-width="0.6" stroke-linecap="butt"/>
<line x1="216.20" y1="297.78" x2="217.80" y2="297.78" stroke="#222" stroke-width="0.6" stroke-linecap="butt"/>
<line x1="216.20" y1="296.60" x2="217.80" y2="296.60" stroke="#222" stroke-width="0.6" stroke-linecap="butt"/>
<line x1="216.20" y1="295.55" x2="217.80" y2="295.55" stroke="#222" stroke-width="0.6" stroke-linecap="butt"/>
<line x1="216.20" y1="329.31" x2="217.80" y2="329.31" stroke="#222" stroke-width="0.6" stroke-linecap="butt"/>
<line x1="216.20" y1="325.72" x2="217.80" y2="325.72" stroke="#222" stroke-width="0.6" stroke-linecap="butt"/>
<line x1="216.20" y1="323.17" x2="217.80" y2="323.17" stroke="#222" stroke-width="0.6" stroke-linecap="butt"/>
<line x1="216.20" y1="321.19" x2="217.80" y2="321.19" stroke="#222" stroke-width="0.6" stroke-linecap="butt"/>
<line x1="216.20" y1="319.57" x2="217.80" y2="319.57" stroke="#222" stroke-width="0.6" stroke-linecap="butt"/>
<line x1="216.20" y1="318.20" x2="217.80" y2="318.20" stroke="#222" stroke-width="0.6" stroke-linecap="butt"/>
<line x1="216.20" y1="317.02" x2="217.80" y2="317.02" stroke="#222" stroke-width="0.6" stroke-linecap="butt"/>
<line x1="216.20" y1="315.97" x2="217.80" y2="315.97" stroke="#222" stroke-width="0.6" stroke-linecap="butt"/>
<line x1="216.20" y1="349.73" x2="217.80" y2="349.73" stroke="#222" stroke-width="0.6" stroke-linecap="butt"/>
<line x1="216.20" y1="346.14" x2="217.80" y2="346.14" stroke="#222" stroke-width="0.6" stroke-linecap="butt"/>
<line x1="216.20" y1="343.59" x2="217.80" y2="343.59" stroke="#222" stroke-width="0.6" stroke-linecap="butt"/>
<line x1="216.20" y1="341.61" x2="217.80" y2="341.61" stroke="#222" stroke-width="0.6" stroke-linecap="butt"/>
<line x1="216.20" y1="339.99" x2="217.80" y2="339.99" stroke="#222" stroke-width="0.6" stroke-linecap="butt"/>
<line x1="216.20" y1="338.62" x2="217.80" y2="338.62" stroke="#222" stroke-width="0.6" stroke-linecap="butt"/>
<line x1="216.20" y1="337.44" x2="217.80" y2="337.44" stroke="#222" stroke-width="0.6" stroke-linecap="butt"/>
<line x1="216.20" y1="336.39" x2="217.80" y2="336.39" stroke="#222" stroke-width="0.6" stroke-linecap="butt"/>
<line x1="216.20" y1="370.15" x2="217.80" y2="370.15" stroke="#222" stroke-width="0.6" stroke-linecap="butt"/>
<line x1="216.20" y1="366.56" x2="217.80" y2="366.56" stroke="#222" stroke-width="0.6" stroke-linecap="butt"/>
<line x1="216.20" y1="364.01" x2="217.80" y2="364.01" stroke="#222" stroke-width="0.6" stroke-linecap="butt"/>
<line x1="216.20" y1="362.03" x2="217.80" y2="362.03" stroke="#222" stroke-width="0.6" stroke-linecap="butt"/>
<line x1="216.20" y1="360.41" x2="217.80" y2="360.41" stroke="#222" stroke-width="0.6" stroke-linecap="butt"/>
<line x1="216.20" y1="359.04" x2="217.80" y2="359.04" stroke="#222" stroke-width="0.6" stroke-linecap="butt"/>
<line x1="216.20" y1="357.86" x2="217.80" y2="357.86" stroke="#222" stroke-width="0.6" stroke-linecap="butt"/>
<line x1="216.20" y1="356.81" x2="217.80" y2="356.81" stroke="#222" stroke-width="0.6" stroke-linecap="butt"/>
<line x1="217.80" y1="271.50" x2="217.80" y2="376.90" stroke="#111" stroke-width="1.3" stroke-linecap="butt"/>
<rect x="220.20" y="315.80" width="12.20" height="61.00" fill="#0a0a0a" />
<rect x="237.50" y="310.60" width="12.10" height="66.20" fill="#a80c2e" />
<rect x="254.80" y="319.20" width="12.10" height="57.60" fill="#0a0a0a" />
<rect x="272.60" y="300.20" width="11.80" height="76.60" fill="#a80c2e" />
<line x1="220.20" y1="379.40" x2="250.30" y2="379.40" stroke="#222" stroke-width="1.3" stroke-linecap="butt"/>
<line x1="254.80" y1="379.40" x2="285.00" y2="379.40" stroke="#222" stroke-width="1.3" stroke-linecap="butt"/>
<text transform="translate(235.50,393.70)" text-anchor="middle" fill="#111" stroke="#111" stroke-width="0.18" style="font-size:8.6px;font-style:italic;"><tspan dy="0.00">Tlr9</tspan><tspan dy="-3.10" style="font-size:5.33px">+/+</tspan></text>
<text transform="translate(270.00,393.70)" text-anchor="middle" fill="#111" stroke="#111" stroke-width="0.18" style="font-size:8.6px;font-style:italic;"><tspan dy="0.00">Tlr9</tspan><tspan dy="-3.10" style="font-size:5.33px">-/-</tspan></text>
<line x1="242.00" y1="280.50" x2="278.00" y2="280.50" stroke="#111" stroke-width="1.2" stroke-linecap="butt"/>
<line x1="242.00" y1="276.90" x2="242.00" y2="284.10" stroke="#111" stroke-width="1.2" stroke-linecap="butt"/>
<line x1="278.00" y1="276.90" x2="278.00" y2="284.10" stroke="#111" stroke-width="1.2" stroke-linecap="butt"/>
<text transform="translate(260.00,279.30)" text-anchor="middle" fill="#111" stroke="#111" stroke-width="0.18" style="font-size:9px;font-weight:bold;">**</text>
<circle cx="224.60" cy="314.60" r="2.45" fill="#fff" stroke="#111" stroke-width="1.5"/>
<circle cx="226.40" cy="313.80" r="2.45" fill="#fff" stroke="#111" stroke-width="1.5"/>
<circle cx="228.20" cy="315.80" r="2.45" fill="#fff" stroke="#111" stroke-width="1.5"/>
<circle cx="242.50" cy="310.00" r="2.45" fill="#fff" stroke="#111" stroke-width="1.5"/>
<circle cx="246.30" cy="310.80" r="2.45" fill="#fff" stroke="#111" stroke-width="1.5"/>
<circle cx="244.50" cy="313.30" r="2.45" fill="#fff" stroke="#111" stroke-width="1.5"/>
<circle cx="258.60" cy="318.30" r="2.45" fill="#fff" stroke="#111" stroke-width="1.5"/>
<circle cx="260.40" cy="318.00" r="2.45" fill="#fff" stroke="#111" stroke-width="1.5"/>
<circle cx="262.20" cy="320.00" r="2.45" fill="#fff" stroke="#111" stroke-width="1.5"/>
<circle cx="275.00" cy="299.50" r="2.45" fill="#fff" stroke="#111" stroke-width="1.5"/>
<circle cx="279.50" cy="299.00" r="2.45" fill="#fff" stroke="#111" stroke-width="1.5"/>
<circle cx="278.00" cy="303.30" r="2.45" fill="#fff" stroke="#111" stroke-width="1.5"/>
<text transform="translate(183.30,364.60) rotate(-90) scale(0.77,1)" text-anchor="start" fill="#111" stroke="#111" stroke-width="0.18" style="font-size:11.0px;">Number live CD19</text>
<text transform="translate(180.10,294.90) rotate(-90) scale(1.0991,1)" text-anchor="start" fill="#111" stroke="#111" stroke-width="0.18" style="font-size:6.4px;">high</text>
<text transform="translate(193.70,349.10) rotate(-90) scale(0.7428,1)" text-anchor="start" fill="#111" stroke="#111" stroke-width="0.18" style="font-size:10.7px;">EGFP+ B cells</text>
<text transform="translate(372.80,272.90)" text-anchor="end" fill="#111" stroke="#111" stroke-width="0.18" style="font-size:5.4px;">6</text>
<text transform="translate(368.80,277.40)" text-anchor="end" fill="#111" stroke="#111" stroke-width="0.18" style="font-size:6.9px;">10</text>
<line x1="376.10" y1="274.20" x2="379.10" y2="274.20" stroke="#111" stroke-width="1.0" stroke-linecap="butt"/>
<text transform="translate(372.80,293.32)" text-anchor="end" fill="#111" stroke="#111" stroke-width="0.18" style="font-size:5.4px;">5</text>
<text transform="translate(368.80,297.82)" text-anchor="end" fill="#111" stroke="#111" stroke-width="0.18" style="font-size:6.9px;">10</text>
<line x1="376.10" y1="294.62" x2="379.10" y2="294.62" stroke="#111" stroke-width="1.0" stroke-linecap="butt"/>
<text transform="translate(372.80,313.74)" text-anchor="end" fill="#111" stroke="#111" stroke-width="0.18" style="font-size:5.4px;">4</text>
<text transform="translate(368.80,318.24)" text-anchor="end" fill="#111" stroke="#111" stroke-width="0.18" style="font-size:6.9px;">10</text>
<line x1="376.10" y1="315.04" x2="379.10" y2="315.04" stroke="#111" stroke-width="1.0" stroke-linecap="butt"/>
<text transform="translate(372.80,334.16)" text-anchor="end" fill="#111" stroke="#111" stroke-width="0.18" style="font-size:5.4px;">3</text>
<text transform="translate(368.80,338.66)" text-anchor="end" fill="#111" stroke="#111" stroke-width="0.18" style="font-size:6.9px;">10</text>
<line x1="376.10" y1="335.46" x2="379.10" y2="335.46" stroke="#111" stroke-width="1.0" stroke-linecap="butt"/>
<text transform="translate(372.80,354.58)" text-anchor="end" fill="#111" stroke="#111" stroke-width="0.18" style="font-size:5.4px;">2</text>
<text transform="translate(368.80,359.08)" text-anchor="end" fill="#111" stroke="#111" stroke-width="0.18" style="font-size:6.9px;">10</text>
<line x1="376.10" y1="355.88" x2="379.10" y2="355.88" stroke="#111" stroke-width="1.0" stroke-linecap="butt"/>
<text transform="translate(372.80,375.00)" text-anchor="end" fill="#111" stroke="#111" stroke-width="0.18" style="font-size:5.4px;">1</text>
<text transform="translate(368.80,379.50)" text-anchor="end" fill="#111" stroke="#111" stroke-width="0.18" style="font-size:6.9px;">10</text>
<line x1="376.10" y1="376.30" x2="379.10" y2="376.30" stroke="#111" stroke-width="1.0" stroke-linecap="butt"/>
<line x1="377.50" y1="288.47" x2="379.10" y2="288.47" stroke="#222" stroke-width="0.6" stroke-linecap="butt"/>
<line x1="377.50" y1="284.88" x2="379.10" y2="284.88" stroke="#222" stroke-width="0.6" stroke-linecap="butt"/>
<line x1="377.50" y1="282.33" x2="379.10" y2="282.33" stroke="#222" stroke-width="0.6" stroke-linecap="butt"/>
<line x1="377.50" y1="280.35" x2="379.10" y2="280.35" stroke="#222" stroke-width="0.6" stroke-linecap="butt"/>
<line x1="377.50" y1="278.73" x2="379.10" y2="278.73" stroke="#222" stroke-width="0.6" stroke-linecap="butt"/>
<line x1="377.50" y1="277.36" x2="379.10" y2="277.36" stroke="#222" stroke-width="0.6" stroke-linecap="butt"/>
<line x1="377.50" y1="276.18" x2="379.10" y2="276.18" stroke="#222" stroke-width="0.6" stroke-linecap="butt"/>
<line x1="377.50" y1="275.13" x2="379.10" y2="275.13" stroke="#222" stroke-width="0.6" stroke-linecap="butt"/>
<line x1="377.50" y1="308.89" x2="379.10" y2="308.89" stroke="#222" stroke-width="0.6" stroke-linecap="butt"/>
<line x1="377.50" y1="305.30" x2="379.10" y2="305.30" stroke="#222" stroke-width="0.6" stroke-linecap="butt"/>
<line x1="377.50" y1="302.75" x2="379.10" y2="302.75" stroke="#222" stroke-width="0.6" stroke-linecap="butt"/>
<line x1="377.50" y1="300.77" x2="379.10" y2="300.77" stroke="#222" stroke-width="0.6" stroke-linecap="butt"/>
<line x1="377.50" y1="299.15" x2="379.10" y2="299.15" stroke="#222" stroke-width="0.6" stroke-linecap="butt"/>
<line x1="377.50" y1="297.78" x2="379.10" y2="297.78" stroke="#222" stroke-width="0.6" stroke-linecap="butt"/>
<line x1="377.50" y1="296.60" x2="379.10" y2="296.60" stroke="#222" stroke-width="0.6" stroke-linecap="butt"/>
<line x1="377.50" y1="295.55" x2="379.10" y2="295.55" stroke="#222" stroke-width="0.6" stroke-linecap="butt"/>
<line x1="377.50" y1="329.31" x2="379.10" y2="329.31" stroke="#222" stroke-width="0.6" stroke-linecap="butt"/>
<line x1="377.50" y1="325.72" x2="379.10" y2="325.72" stroke="#222" stroke-width="0.6" stroke-linecap="butt"/>
<line x1="377.50" y1="323.17" x2="379.10" y2="323.17" stroke="#222" stroke-width="0.6" stroke-linecap="butt"/>
<line x1="377.50" y1="321.19" x2="379.10" y2="321.19" stroke="#222" stroke-width="0.6" stroke-linecap="butt"/>
<line x1="377.50" y1="319.57" x2="379.10" y2="319.57" stroke="#222" stroke-width="0.6" stroke-linecap="butt"/>
<line x1="377.50" y1="318.20" x2="379.10" y2="318.20" stroke="#222" stroke-width="0.6" stroke-linecap="butt"/>
<line x1="377.50" y1="317.02" x2="379.10" y2="317.02" stroke="#222" stroke-width="0.6" stroke-linecap="butt"/>
<line x1="377.50" y1="315.97" x2="379.10" y2="315.97" stroke="#222" stroke-width="0.6" stroke-linecap="butt"/>
<line x1="377.50" y1="349.73" x2="379.10" y2="349.73" stroke="#222" stroke-width="0.6" stroke-linecap="butt"/>
<line x1="377.50" y1="346.14" x2="379.10" y2="346.14" stroke="#222" stroke-width="0.6" stroke-linecap="butt"/>
<line x1="377.50" y1="343.59" x2="379.10" y2="343.59" stroke="#222" stroke-width="0.6" stroke-linecap="butt"/>
<line x1="377.50" y1="341.61" x2="379.10" y2="341.61" stroke="#222" stroke-width="0.6" stroke-linecap="butt"/>
<line x1="377.50" y1="339.99" x2="379.10" y2="339.99" stroke="#222" stroke-width="0.6" stroke-linecap="butt"/>
<line x1="377.50" y1="338.62" x2="379.10" y2="338.62" stroke="#222" stroke-width="0.6" stroke-linecap="butt"/>
<line x1="377.50" y1="337.44" x2="379.10" y2="337.44" stroke="#222" stroke-width="0.6" stroke-linecap="butt"/>
<line x1="377.50" y1="336.39" x2="379.10" y2="336.39" stroke="#222" stroke-width="0.6" stroke-linecap="butt"/>
<line x1="377.50" y1="370.15" x2="379.10" y2="370.15" stroke="#222" stroke-width="0.6" stroke-linecap="butt"/>
<line x1="377.50" y1="366.56" x2="379.10" y2="366.56" stroke="#222" stroke-width="0.6" stroke-linecap="butt"/>
<line x1="377.50" y1="364.01" x2="379.10" y2="364.01" stroke="#222" stroke-width="0.6" stroke-linecap="butt"/>
<line x1="377.50" y1="362.03" x2="379.10" y2="362.03" stroke="#222" stroke-width="0.6" stroke-linecap="butt"/>
<line x1="377.50" y1="360.41" x2="379.10" y2="360.41" stroke="#222" stroke-width="0.6" stroke-linecap="butt"/>
<line x1="377.50" y1="359.04" x2="379.10" y2="359.04" stroke="#222" stroke-width="0.6" stroke-linecap="butt"/>
<line x1="377.50" y1="357.86" x2="379.10" y2="357.86" stroke="#222" stroke-width="0.6" stroke-linecap="butt"/>
<line x1="377.50" y1="356.81" x2="379.10" y2="356.81" stroke="#222" stroke-width="0.6" stroke-linecap="butt"/>
<line x1="379.10" y1="271.50" x2="379.10" y2="376.90" stroke="#111" stroke-width="1.3" stroke-linecap="butt"/>
<rect x="381.50" y="330.30" width="12.20" height="46.50" fill="#0a0a0a" />
<rect x="398.70" y="335.80" width="11.70" height="41.00" fill="#a80c2e" />
<rect x="416.10" y="332.00" width="11.60" height="44.80" fill="#0a0a0a" />
<rect x="433.40" y="290.80" width="11.60" height="86.00" fill="#a80c2e" />
<line x1="381.50" y1="379.40" x2="411.70" y2="379.40" stroke="#222" stroke-width="1.3" stroke-linecap="butt"/>
<line x1="416.20" y1="379.40" x2="446.30" y2="379.40" stroke="#222" stroke-width="1.3" stroke-linecap="butt"/>
<text transform="translate(397.00,393.70)" text-anchor="middle" fill="#111" stroke="#111" stroke-width="0.18" style="font-size:8.6px;font-style:italic;"><tspan dy="0.00">Tlr9</tspan><tspan dy="-3.10" style="font-size:5.33px">+/+</tspan></text>
<text transform="translate(431.50,393.70)" text-anchor="middle" fill="#111" stroke="#111" stroke-width="0.18" style="font-size:8.6px;font-style:italic;"><tspan dy="0.00">Tlr9</tspan><tspan dy="-3.10" style="font-size:5.33px">-/-</tspan></text>
<line x1="404.00" y1="280.50" x2="439.30" y2="280.50" stroke="#111" stroke-width="1.2" stroke-linecap="butt"/>
<line x1="404.00" y1="276.90" x2="404.00" y2="284.10" stroke="#111" stroke-width="1.2" stroke-linecap="butt"/>
<line x1="439.30" y1="276.90" x2="439.30" y2="284.10" stroke="#111" stroke-width="1.2" stroke-linecap="butt"/>
<text transform="translate(421.30,279.30)" text-anchor="middle" fill="#111" stroke="#111" stroke-width="0.18" style="font-size:9px;font-weight:bold;">**</text>
<circle cx="386.30" cy="328.30" r="2.45" fill="#fff" stroke="#111" stroke-width="1.5"/>
<circle cx="388.20" cy="330.00" r="2.45" fill="#fff" stroke="#111" stroke-width="1.5"/>
<circle cx="389.60" cy="330.80" r="2.45" fill="#fff" stroke="#111" stroke-width="1.5"/>
<circle cx="403.30" cy="334.50" r="2.45" fill="#fff" stroke="#111" stroke-width="1.5"/>
<circle cx="405.00" cy="336.00" r="2.45" fill="#fff" stroke="#111" stroke-width="1.5"/>
<circle cx="406.30" cy="337.00" r="2.45" fill="#fff" stroke="#111" stroke-width="1.5"/>
<circle cx="422.50" cy="329.00" r="2.45" fill="#fff" stroke="#111" stroke-width="1.5"/>
<circle cx="425.00" cy="333.80" r="2.45" fill="#fff" stroke="#111" stroke-width="1.5"/>
<circle cx="418.80" cy="338.30" r="2.45" fill="#fff" stroke="#111" stroke-width="1.5"/>
<circle cx="436.30" cy="290.80" r="2.45" fill="#fff" stroke="#111" stroke-width="1.5"/>
<circle cx="442.00" cy="292.00" r="2.45" fill="#fff" stroke="#111" stroke-width="1.5"/>
<circle cx="438.80" cy="304.50" r="2.45" fill="#fff" stroke="#111" stroke-width="1.5"/>
<text transform="translate(343.90,364.60) rotate(-90) scale(0.77,1)" text-anchor="start" fill="#111" stroke="#111" stroke-width="0.18" style="font-size:11.0px;">Number live CD19</text>
<text transform="translate(340.70,294.90) rotate(-90) scale(1.1246,1)" text-anchor="start" fill="#111" stroke="#111" stroke-width="0.18" style="font-size:6.4px;">low</text>
<text transform="translate(354.60,349.10) rotate(-90) scale(0.7428,1)" text-anchor="start" fill="#111" stroke="#111" stroke-width="0.18" style="font-size:10.7px;">EGFP+ B cells</text>
<text transform="translate(52.30,438.00)" text-anchor="start" fill="#111" stroke="#111" stroke-width="0.18" style="font-size:10.0px;font-style:italic;"><tspan dy="0.00">MYD88</tspan><tspan dy="-2.20" style="font-size:8.60px">L265P</tspan></text>
<text transform="translate(205.20,438.60)" text-anchor="middle" fill="#111" stroke="#111" stroke-width="0.18" style="font-size:10.1px;"><tspan dy="0.00">Gated CD19</tspan><tspan dy="-3.33" style="font-size:6.87px">hi</tspan><tspan dy="3.33">/CD19</tspan><tspan dy="-3.33" style="font-size:6.87px">lo</tspan><tspan dy="3.33"> EGFP+</tspan></text>
<g clip-path="url(#cp13)"><g filter="url(#sp1)"><g transform="translate(44,441) scale(0.13846)"><ellipse cx="70" cy="260" rx="40" ry="240" fill="#000" fill-opacity="0.35"/><ellipse cx="250" cy="95" rx="120" ry="50" fill="#000" fill-opacity="0.12"/></g></g><g filter="url(#bl1)"><g transform="translate(44,441) scale(0.13846)"><ellipse cx="70" cy="260" rx="30" ry="225" fill="#000" fill-opacity="1.0"/><ellipse cx="70" cy="430" rx="36" ry="60" fill="#000" fill-opacity="0.5"/></g></g><g filter="url(#bl08)"><g transform="translate(44,441) scale(0.13846)"><ellipse cx="245" cy="95" rx="110" ry="34" fill="#000" fill-opacity="0.22" transform="rotate(-5 245 95)"/><ellipse cx="295" cy="80" rx="40" ry="9" fill="#000" fill-opacity="0.5" transform="rotate(5 295 80)"/><ellipse cx="300" cy="124" rx="28" ry="8" fill="#000" fill-opacity="0.55"/><ellipse cx="180" cy="90" rx="50" ry="12" fill="#000" fill-opacity="0.25" transform="rotate(-8 180 90)"/></g></g><g><g transform="translate(44,441) scale(0.13846)"><path d="M120,70 Q250,40 340,60 Q370,90 330,130 Q250,150 120,140" fill="none" fill-opacity="1.0" stroke="#9a9a9a" stroke-width="0.45" vector-effect="non-scaling-stroke" stroke-linejoin="round"/><path d="M130,110 Q200,95 280,100 M140,125 Q220,115 300,135 M200,150 Q260,170 300,140" fill="none" fill-opacity="1.0" stroke="#9a9a9a" stroke-width="0.4" vector-effect="non-scaling-stroke" stroke-linejoin="round"/><ellipse cx="385" cy="190" rx="20" ry="20" fill="none" fill-opacity="1.0" stroke="#9a9a9a" stroke-width="0.5" vector-effect="non-scaling-stroke"/><ellipse cx="340" cy="210" rx="6" ry="6" fill="none" fill-opacity="1.0" stroke="#9a9a9a" stroke-width="0.5" vector-effect="non-scaling-stroke"/></g></g></g>
<rect x="46.50" y="443.80" width="66.00" height="65.00" fill="none" stroke="#222" stroke-width="1.0" />
<line x1="46.50" y1="443.80" x2="46.50" y2="508.80" stroke="#111" stroke-width="1.5" stroke-linecap="butt"/>
<line x1="46.50" y1="508.80" x2="112.50" y2="508.80" stroke="#111" stroke-width="1.5" stroke-linecap="butt"/>
<line x1="44.30" y1="449.22" x2="46.50" y2="449.22" stroke="#111" stroke-width="0.9" stroke-linecap="butt"/>
<line x1="52.00" y1="508.80" x2="52.00" y2="511.00" stroke="#111" stroke-width="0.9" stroke-linecap="butt"/>
<line x1="44.30" y1="454.63" x2="46.50" y2="454.63" stroke="#111" stroke-width="0.9" stroke-linecap="butt"/>
<line x1="57.50" y1="508.80" x2="57.50" y2="511.00" stroke="#111" stroke-width="0.9" stroke-linecap="butt"/>
<line x1="44.30" y1="460.05" x2="46.50" y2="460.05" stroke="#111" stroke-width="0.9" stroke-linecap="butt"/>
<line x1="63.00" y1="508.80" x2="63.00" y2="511.00" stroke="#111" stroke-width="0.9" stroke-linecap="butt"/>
<line x1="44.30" y1="465.47" x2="46.50" y2="465.47" stroke="#111" stroke-width="0.9" stroke-linecap="butt"/>
<line x1="68.50" y1="508.80" x2="68.50" y2="511.00" stroke="#111" stroke-width="0.9" stroke-linecap="butt"/>
<line x1="44.30" y1="470.88" x2="46.50" y2="470.88" stroke="#111" stroke-width="0.9" stroke-linecap="butt"/>
<line x1="74.00" y1="508.80" x2="74.00" y2="511.00" stroke="#111" stroke-width="0.9" stroke-linecap="butt"/>
<line x1="44.30" y1="476.30" x2="46.50" y2="476.30" stroke="#111" stroke-width="0.9" stroke-linecap="butt"/>
<line x1="79.50" y1="508.80" x2="79.50" y2="511.00" stroke="#111" stroke-width="0.9" stroke-linecap="butt"/>
<line x1="44.30" y1="481.72" x2="46.50" y2="481.72" stroke="#111" stroke-width="0.9" stroke-linecap="butt"/>
<line x1="85.00" y1="508.80" x2="85.00" y2="511.00" stroke="#111" stroke-width="0.9" stroke-linecap="butt"/>
<line x1="44.30" y1="487.13" x2="46.50" y2="487.13" stroke="#111" stroke-width="0.9" stroke-linecap="butt"/>
<line x1="90.50" y1="508.80" x2="90.50" y2="511.00" stroke="#111" stroke-width="0.9" stroke-linecap="butt"/>
<line x1="44.30" y1="492.55" x2="46.50" y2="492.55" stroke="#111" stroke-width="0.9" stroke-linecap="butt"/>
<line x1="96.00" y1="508.80" x2="96.00" y2="511.00" stroke="#111" stroke-width="0.9" stroke-linecap="butt"/>
<line x1="44.30" y1="497.97" x2="46.50" y2="497.97" stroke="#111" stroke-width="0.9" stroke-linecap="butt"/>
<line x1="101.50" y1="508.80" x2="101.50" y2="511.00" stroke="#111" stroke-width="0.9" stroke-linecap="butt"/>
<line x1="44.30" y1="503.38" x2="46.50" y2="503.38" stroke="#111" stroke-width="0.9" stroke-linecap="butt"/>
<line x1="107.00" y1="508.80" x2="107.00" y2="511.00" stroke="#111" stroke-width="0.9" stroke-linecap="butt"/>
<path d="M59,444.40000000000003 L111.9,444.40000000000003 L80.8,470 L59,470 Z" fill="none" stroke="#3a3ac8" stroke-width="1.1"/>
<path d="M80.8,470 L111.60000000000001,445.0 L111.60000000000001,506.8 L80.8,506.8 Z" fill="none" stroke="#bd3029" stroke-width="1.1"/>
<text transform="translate(69.20,479.10)" text-anchor="middle" fill="#3a3ac8" stroke="#3a3ac8" stroke-width="0" style="font-size:9.4px;">10.1</text>
<text transform="translate(69.80,506.80)" text-anchor="middle" fill="#bd3029" stroke="#bd3029" stroke-width="0" style="font-size:9.4px;">1.16</text>
<g clip-path="url(#cp14)"><g filter="url(#sp2)"><g transform="translate(44,513) scale(0.13846)"><ellipse cx="72" cy="270" rx="44" ry="240" fill="#000" fill-opacity="0.3"/><ellipse cx="260" cy="100" rx="130" ry="80" fill="#000" fill-opacity="0.22"/><ellipse cx="385" cy="220" rx="100" ry="140" fill="#000" fill-opacity="0.25"/><ellipse cx="330" cy="380" rx="150" ry="90" fill="#000" fill-opacity="0.08"/></g></g><g filter="url(#bl08)"><g transform="translate(44,513) scale(0.13846)"><path d="M40,95 Q40,58 72,58 Q106,58 106,95 L108,490 L38,490 Z" fill="#000" fill-opacity="1.0"/></g></g><g filter="url(#bl1)"><g transform="translate(44,513) scale(0.13846)"><ellipse cx="262" cy="92" rx="78" ry="24" fill="#000" fill-opacity="0.8" transform="rotate(-14 262 92)"/><ellipse cx="250" cy="100" rx="105" ry="48" fill="#000" fill-opacity="0.28" transform="rotate(-10 250 100)"/><ellipse cx="385" cy="205" rx="72" ry="105" fill="#000" fill-opacity="0.45" transform="rotate(-8 385 205)"/><ellipse cx="410" cy="170" rx="34" ry="50" fill="#000" fill-opacity="0.5" transform="rotate(-10 410 170)"/><ellipse cx="360" cy="150" rx="20" ry="30" fill="#000" fill-opacity="0.3"/><path d="M300,486 L470,486" fill="none" fill-opacity="1.0" stroke="#400" stroke-width="1.6" vector-effect="non-scaling-stroke" stroke-linejoin="round"/></g></g><g filter="url(#bl05)"><g transform="translate(44,513) scale(0.13846)"><ellipse cx="72" cy="120" rx="12" ry="12" fill="none" fill-opacity="1.0" stroke="#bbb" stroke-width="0.5" vector-effect="non-scaling-stroke"/><ellipse cx="72" cy="120" rx="3" ry="3" fill="#aaa" fill-opacity="1.0"/><path d="M250,100 L310,88" fill="none" fill-opacity="1.0" stroke="#fff" stroke-width="0.7" vector-effect="non-scaling-stroke" stroke-linejoin="round" stroke-opacity="0.7"/></g></g><g><g transform="translate(44,513) scale(0.13846)"><path d="M150,140 Q190,120 230,150 Q200,190 160,180 Z M140,200 Q200,210 250,190" fill="none" fill-opacity="1.0" stroke="#ddd" stroke-width="0.5" vector-effect="non-scaling-stroke" stroke-linejoin="round"/><path d="M130,300 Q200,280 260,330 Q300,400 280,470 M290,340 Q360,320 450,360 Q470,420 440,470 M320,380 Q380,370 420,400 Q430,440 400,460" fill="none" fill-opacity="1.0" stroke="#9a9a9a" stroke-width="0.4" vector-effect="non-scaling-stroke" stroke-linejoin="round"/><path d="M330,130 Q400,90 450,150 Q480,250 430,320 Q360,340 320,260 Q300,180 330,130" fill="none" fill-opacity="1.0" stroke="#9a9a9a" stroke-width="0.4" vector-effect="non-scaling-stroke" stroke-linejoin="round"/></g></g></g>
<rect x="46.50" y="515.50" width="66.00" height="65.00" fill="none" stroke="#222" stroke-width="1.0" />
<line x1="46.50" y1="515.50" x2="46.50" y2="580.50" stroke="#111" stroke-width="1.5" stroke-linecap="butt"/>
<line x1="46.50" y1="580.50" x2="112.50" y2="580.50" stroke="#111" stroke-width="1.5" stroke-linecap="butt"/>
<line x1="44.30" y1="520.92" x2="46.50" y2="520.92" stroke="#111" stroke-width="0.9" stroke-linecap="butt"/>
<line x1="52.00" y1="580.50" x2="52.00" y2="582.70" stroke="#111" stroke-width="0.9" stroke-linecap="butt"/>
<line x1="44.30" y1="526.33" x2="46.50" y2="526.33" stroke="#111" stroke-width="0.9" stroke-linecap="butt"/>
<line x1="57.50" y1="580.50" x2="57.50" y2="582.70" stroke="#111" stroke-width="0.9" stroke-linecap="butt"/>
<line x1="44.30" y1="531.75" x2="46.50" y2="531.75" stroke="#111" stroke-width="0.9" stroke-linecap="butt"/>
<line x1="63.00" y1="580.50" x2="63.00" y2="582.70" stroke="#111" stroke-width="0.9" stroke-linecap="butt"/>
<line x1="44.30" y1="537.17" x2="46.50" y2="537.17" stroke="#111" stroke-width="0.9" stroke-linecap="butt"/>
<line x1="68.50" y1="580.50" x2="68.50" y2="582.70" stroke="#111" stroke-width="0.9" stroke-linecap="butt"/>
<line x1="44.30" y1="542.58" x2="46.50" y2="542.58" stroke="#111" stroke-width="0.9" stroke-linecap="butt"/>
<line x1="74.00" y1="580.50" x2="74.00" y2="582.70" stroke="#111" stroke-width="0.9" stroke-linecap="butt"/>
<line x1="44.30" y1="548.00" x2="46.50" y2="548.00" stroke="#111" stroke-width="0.9" stroke-linecap="butt"/>
<line x1="79.50" y1="580.50" x2="79.50" y2="582.70" stroke="#111" stroke-width="0.9" stroke-linecap="butt"/>
<line x1="44.30" y1="553.42" x2="46.50" y2="553.42" stroke="#111" stroke-width="0.9" stroke-linecap="butt"/>
<line x1="85.00" y1="580.50" x2="85.00" y2="582.70" stroke="#111" stroke-width="0.9" stroke-linecap="butt"/>
<line x1="44.30" y1="558.83" x2="46.50" y2="558.83" stroke="#111" stroke-width="0.9" stroke-linecap="butt"/>
<line x1="90.50" y1="580.50" x2="90.50" y2="582.70" stroke="#111" stroke-width="0.9" stroke-linecap="butt"/>
<line x1="44.30" y1="564.25" x2="46.50" y2="564.25" stroke="#111" stroke-width="0.9" stroke-linecap="butt"/>
<line x1="96.00" y1="580.50" x2="96.00" y2="582.70" stroke="#111" stroke-width="0.9" stroke-linecap="butt"/>
<line x1="44.30" y1="569.67" x2="46.50" y2="569.67" stroke="#111" stroke-width="0.9" stroke-linecap="butt"/>
<line x1="101.50" y1="580.50" x2="101.50" y2="582.70" stroke="#111" stroke-width="0.9" stroke-linecap="butt"/>
<line x1="44.30" y1="575.08" x2="46.50" y2="575.08" stroke="#111" stroke-width="0.9" stroke-linecap="butt"/>
<line x1="107.00" y1="580.50" x2="107.00" y2="582.70" stroke="#111" stroke-width="0.9" stroke-linecap="butt"/>
<path d="M59,516.1 L111.9,516.1 L80.8,541.8 L59,541.8 Z" fill="none" stroke="#3a3ac8" stroke-width="1.1"/>
<path d="M80.8,541.8 L111.60000000000001,516.7 L111.60000000000001,578.5 L80.8,578.5 Z" fill="none" stroke="#bd3029" stroke-width="1.1"/>
<text transform="translate(69.20,550.90)" text-anchor="middle" fill="#3a3ac8" stroke="#3a3ac8" stroke-width="0" style="font-size:9.4px;">12</text>
<text transform="translate(69.80,578.50)" text-anchor="middle" fill="#bd3029" stroke="#bd3029" stroke-width="0" style="font-size:9.4px;">27.9</text>
<g clip-path="url(#cp15)"><g filter="url(#sp3)"><g transform="translate(44,585) scale(0.13846)"><ellipse cx="66" cy="280" rx="44" ry="230" fill="#000" fill-opacity="0.25"/><ellipse cx="250" cy="110" rx="130" ry="80" fill="#000" fill-opacity="0.22"/><ellipse cx="395" cy="200" rx="110" ry="120" fill="#000" fill-opacity="0.28"/><ellipse cx="340" cy="350" rx="120" ry="70" fill="#000" fill-opacity="0.06"/></g></g><g filter="url(#bl08)"><g transform="translate(44,585) scale(0.13846)"><path d="M34,120 Q34,80 64,80 Q98,80 98,120 L100,490 L32,490 Z" fill="#000" fill-opacity="1.0"/></g></g><g filter="url(#bl05)"><g transform="translate(44,585) scale(0.13846)"><ellipse cx="62" cy="140" rx="7" ry="32" fill="#fff" fill-opacity="0.95"/><ellipse cx="66" cy="300" rx="4" ry="120" fill="#fff" fill-opacity="0.55"/><ellipse cx="50" cy="470" rx="8" ry="14" fill="#fff" fill-opacity="0.5"/></g></g><g filter="url(#bl1)"><g transform="translate(44,585) scale(0.13846)"><ellipse cx="245" cy="110" rx="105" ry="55" fill="#000" fill-opacity="0.3"/><ellipse cx="305" cy="68" rx="38" ry="11" fill="#000" fill-opacity="0.7" transform="rotate(8 305 68)"/><ellipse cx="200" cy="110" rx="40" ry="10" fill="#000" fill-opacity="0.4" transform="rotate(-10 200 110)"/><ellipse cx="260" cy="150" rx="50" ry="10" fill="#000" fill-opacity="0.3"/><ellipse cx="400" cy="180" rx="52" ry="52" fill="none" fill-opacity="1.0" stroke="#000" stroke-width="3.2" vector-effect="non-scaling-stroke"/><ellipse cx="455" cy="195" rx="14" ry="65" fill="#000" fill-opacity="0.75" transform="rotate(-8 455 195)"/><ellipse cx="400" cy="200" rx="90" ry="100" fill="#000" fill-opacity="0.22"/><path d="M350,484 L460,484" fill="none" fill-opacity="1.0" stroke="#300" stroke-width="1.6" vector-effect="non-scaling-stroke" stroke-linejoin="round"/></g></g><g filter="url(#bl05)"><g transform="translate(44,585) scale(0.13846)"><ellipse cx="400" cy="182" rx="13" ry="13" fill="#fff" fill-opacity="0.9"/></g></g><g><g transform="translate(44,585) scale(0.13846)"><path d="M280,300 Q360,290 430,330 Q450,380 410,400 Q340,390 290,350 Z M300,320 Q360,330 400,370" fill="none" fill-opacity="1.0" stroke="#9a9a9a" stroke-width="0.4" vector-effect="non-scaling-stroke" stroke-linejoin="round"/><path d="M140,170 Q200,190 240,170 M150,90 Q200,70 250,85" fill="none" fill-opacity="1.0" stroke="#ddd" stroke-width="0.5" vector-effect="non-scaling-stroke" stroke-linejoin="round"/></g></g></g>
<rect x="46.50" y="588.00" width="66.00" height="65.00" fill="none" stroke="#222" stroke-width="1.0" />
<line x1="46.50" y1="588.00" x2="46.50" y2="653.00" stroke="#111" stroke-width="1.5" stroke-linecap="butt"/>
<line x1="46.50" y1="653.00" x2="112.50" y2="653.00" stroke="#111" stroke-width="1.5" stroke-linecap="butt"/>
<line x1="44.30" y1="593.42" x2="46.50" y2="593.42" stroke="#111" stroke-width="0.9" stroke-linecap="butt"/>
<line x1="52.00" y1="653.00" x2="52.00" y2="655.20" stroke="#111" stroke-width="0.9" stroke-linecap="butt"/>
<line x1="44.30" y1="598.83" x2="46.50" y2="598.83" stroke="#111" stroke-width="0.9" stroke-linecap="butt"/>
<line x1="57.50" y1="653.00" x2="57.50" y2="655.20" stroke="#111" stroke-width="0.9" stroke-linecap="butt"/>
<line x1="44.30" y1="604.25" x2="46.50" y2="604.25" stroke="#111" stroke-width="0.9" stroke-linecap="butt"/>
<line x1="63.00" y1="653.00" x2="63.00" y2="655.20" stroke="#111" stroke-width="0.9" stroke-linecap="butt"/>
<line x1="44.30" y1="609.67" x2="46.50" y2="609.67" stroke="#111" stroke-width="0.9" stroke-linecap="butt"/>
<line x1="68.50" y1="653.00" x2="68.50" y2="655.20" stroke="#111" stroke-width="0.9" stroke-linecap="butt"/>
<line x1="44.30" y1="615.08" x2="46.50" y2="615.08" stroke="#111" stroke-width="0.9" stroke-linecap="butt"/>
<line x1="74.00" y1="653.00" x2="74.00" y2="655.20" stroke="#111" stroke-width="0.9" stroke-linecap="butt"/>
<line x1="44.30" y1="620.50" x2="46.50" y2="620.50" stroke="#111" stroke-width="0.9" stroke-linecap="butt"/>
<line x1="79.50" y1="653.00" x2="79.50" y2="655.20" stroke="#111" stroke-width="0.9" stroke-linecap="butt"/>
<line x1="44.30" y1="625.92" x2="46.50" y2="625.92" stroke="#111" stroke-width="0.9" stroke-linecap="butt"/>
<line x1="85.00" y1="653.00" x2="85.00" y2="655.20" stroke="#111" stroke-width="0.9" stroke-linecap="butt"/>
<line x1="44.30" y1="631.33" x2="46.50" y2="631.33" stroke="#111" stroke-width="0.9" stroke-linecap="butt"/>
<line x1="90.50" y1="653.00" x2="90.50" y2="655.20" stroke="#111" stroke-width="0.9" stroke-linecap="butt"/>
<line x1="44.30" y1="636.75" x2="46.50" y2="636.75" stroke="#111" stroke-width="0.9" stroke-linecap="butt"/>
<line x1="96.00" y1="653.00" x2="96.00" y2="655.20" stroke="#111" stroke-width="0.9" stroke-linecap="butt"/>
<line x1="44.30" y1="642.17" x2="46.50" y2="642.17" stroke="#111" stroke-width="0.9" stroke-linecap="butt"/>
<line x1="101.50" y1="653.00" x2="101.50" y2="655.20" stroke="#111" stroke-width="0.9" stroke-linecap="butt"/>
<line x1="44.30" y1="647.58" x2="46.50" y2="647.58" stroke="#111" stroke-width="0.9" stroke-linecap="butt"/>
<line x1="107.00" y1="653.00" x2="107.00" y2="655.20" stroke="#111" stroke-width="0.9" stroke-linecap="butt"/>
<path d="M59,588.6 L111.9,588.6 L80.8,614 L59,614 Z" fill="none" stroke="#3a3ac8" stroke-width="1.1"/>
<path d="M80.8,614 L111.60000000000001,589.2 L111.60000000000001,651.0 L80.8,651.0 Z" fill="none" stroke="#bd3029" stroke-width="1.1"/>
<text transform="translate(69.20,623.10)" text-anchor="middle" fill="#3a3ac8" stroke="#3a3ac8" stroke-width="0" style="font-size:9.4px;">13.4</text>
<text transform="translate(69.80,651.00)" text-anchor="middle" fill="#bd3029" stroke="#bd3029" stroke-width="0" style="font-size:9.4px;">31</text>
<text transform="translate(26.80,477.30) rotate(-90)" text-anchor="middle" fill="#111" stroke="#111" stroke-width="0.18" style="font-size:9.9px;font-style:italic;">Wild Type</text>
<text transform="translate(25.40,578.80) rotate(-90)" text-anchor="start" fill="#111" stroke="#111" stroke-width="0.18" style="font-size:10.0px;font-style:italic;"><tspan dy="0.00">Unc93b1</tspan><tspan dy="-2.50" style="font-size:8.30px">3d/3d</tspan></text>
<text transform="translate(25.40,631.60) rotate(-90)" text-anchor="start" fill="#111" stroke="#111" stroke-width="0.18" style="font-size:9.4px;font-style:italic;"><tspan dy="0.00">Tlr9</tspan><tspan dy="-3.76" style="font-size:4.70px">-/-</tspan></text>
<line x1="34.60" y1="534.50" x2="34.60" y2="448.50" stroke="#222" stroke-width="1.1" stroke-linecap="butt"/>
<path d="M34.60,444.00 L32.10,449.50 L37.10,449.50Z" fill="#222"/>
<text transform="translate(37.60,549.80) rotate(-90) scale(0.88,1)" text-anchor="middle" fill="#111" stroke="#111" stroke-width="0.18" style="font-size:10.2px;">CD19</text>
<line x1="34.60" y1="566.00" x2="34.60" y2="652.60" stroke="#222" stroke-width="1.1" stroke-linecap="butt"/>
<line x1="47.60" y1="664.70" x2="59.00" y2="664.70" stroke="#222" stroke-width="1.1" stroke-linecap="butt"/>
<text transform="translate(74.60,668.40) scale(0.86,1)" text-anchor="middle" fill="#111" stroke="#111" stroke-width="0.18" style="font-size:10.2px;">EGFP</text>
<line x1="93.70" y1="664.70" x2="105.30" y2="664.70" stroke="#222" stroke-width="1.1" stroke-linecap="butt"/>
<path d="M109.80,664.70 L104.30,662.20 L104.30,667.20Z" fill="#222"/>
<line x1="114.50" y1="550.80" x2="126.10" y2="550.80" stroke="#222" stroke-width="1.1" stroke-linecap="butt"/>
<path d="M130.60,550.80 L125.10,548.30 L125.10,553.30Z" fill="#222"/>
<path d="M134.5,486.5 L135.3,480.9 L136.2,477.5 L137.0,470.7 L137.8,469.4 L138.7,466.3 L139.5,462.6 L140.1,462.4 L140.6,459.3 L141.2,458.8 L142.1,453.2 L142.9,448.7 L143.8,445.3 L144.4,450.7 L144.9,452.7 L145.5,457.2 L146.0,463.1 L146.5,468.7 L147.0,472.2 L147.7,477.7 L148.3,485.5 L149.0,488.6 L149.8,495.4 L150.7,498.0 L151.5,501.9 L152.3,503.5 L153.2,505.7 L154.0,509.0 L156.0,507.2 L158.0,508.6 L160.0,508.9 L173.0,508.1 L186.0,508.6 L199.0,508.5" fill="none" stroke="#2626b8" stroke-width="1.1" stroke-linejoin="round"/>
<path d="M134.5,507.5 L146.3,507.5 L158.2,507.8 L170.0,508.9 L171.7,507.8 L173.3,507.1 L175.0,507.2 L176.3,506.4 L177.7,505.5 L179.0,506.2 L180.3,506.3 L181.7,505.6 L183.0,506.7 L184.3,506.4 L185.7,507.1 L187.0,506.5 L188.3,506.2 L189.7,508.5 L191.0,507.1 L193.7,508.0 L196.3,508.9 L199.0,508.5" fill="none" stroke="#c4321a" stroke-width="1.1" stroke-linejoin="round"/>
<path d="M210.0,507.6 L219.3,508.4 L228.7,507.0 L238.0,508.7 L240.3,508.2 L242.7,506.9 L245.0,507.0 L246.3,504.5 L247.7,504.5 L249.0,503.3 L250.0,501.9 L251.0,500.2 L252.0,499.9 L252.7,496.2 L253.3,490.9 L254.0,487.4 L254.5,479.8 L255.0,475.5 L255.5,469.4 L256.0,463.7 L256.5,456.5 L257.0,448.4 L257.5,455.4 L258.0,462.8 L258.5,467.7 L259.0,477.2 L259.5,484.8 L260.0,493.0 L260.7,496.8 L261.3,502.7 L262.0,505.0 L262.7,506.1 L263.3,507.4 L264.0,509.0 L267.7,507.4 L271.3,508.4 L275.0,508.5" fill="none" stroke="#2626b8" stroke-width="1.1" stroke-linejoin="round"/>
<path d="M210.0,508.6 L218.7,509.0 L227.3,509.0 L236.0,509.0 L237.3,507.7 L238.7,507.7 L240.0,507.2 L242.0,508.1 L244.0,508.1 L246.0,506.3 L248.0,506.5 L250.0,506.8 L252.0,507.0 L254.0,507.8 L256.0,508.3 L258.0,508.0 L263.7,507.5 L269.3,508.3 L275.0,508.5" fill="none" stroke="#c4321a" stroke-width="1.1" stroke-linejoin="round"/>
<path d="M134.5,561.6 L135.3,557.6 L136.2,554.2 L137.0,548.6 L137.8,544.7 L138.7,541.7 L139.5,538.6 L140.4,533.5 L141.4,533.4 L142.3,530.0 L142.9,531.9 L143.4,533.3 L144.0,533.6 L144.7,538.3 L145.3,542.0 L146.0,548.5 L146.8,551.5 L147.7,556.5 L148.5,562.0 L149.3,564.9 L150.2,568.5 L151.0,570.5 L152.0,571.6 L153.0,573.5 L154.0,574.6 L156.0,576.0 L158.0,575.4 L160.0,578.8 L162.7,577.9 L165.3,576.3 L168.0,576.7 L170.7,577.5 L173.3,578.0 L176.0,577.7 L179.0,580.6 L182.0,581.0 L185.0,580.1 L189.7,580.2 L194.3,579.0 L199.0,580.5" fill="none" stroke="#2626b8" stroke-width="1.1" stroke-linejoin="round"/>
<path d="M134.5,575.2 L136.3,576.5 L138.2,576.3 L140.0,579.0 L142.7,575.5 L145.3,574.4 L148.0,578.0 L150.3,574.8 L152.7,571.8 L155.0,572.2 L157.0,567.9 L159.0,568.1 L161.0,568.1 L162.7,564.9 L164.3,561.5 L166.0,556.9 L167.7,554.1 L169.3,549.9 L171.0,549.2 L172.3,544.8 L173.7,542.6 L175.0,537.2 L176.3,533.1 L177.7,532.0 L179.0,529.1 L180.0,526.2 L181.0,523.7 L182.0,521.4 L182.7,520.1 L183.3,516.8 L184.0,517.1 L184.7,517.7 L185.3,517.6 L186.0,518.9 L186.7,523.0 L187.3,525.9 L188.0,530.9 L188.7,536.0 L189.3,537.8 L190.0,543.9 L190.7,549.5 L191.3,554.7 L192.0,557.4 L192.7,560.8 L193.3,564.8 L194.0,568.7 L195.0,571.4 L196.0,575.9 L197.0,579.8 L197.8,580.3 L198.7,579.6 L199.5,580.5" fill="none" stroke="#c4321a" stroke-width="1.1" stroke-linejoin="round"/>
<path d="M210.0,580.2 L212.0,580.4 L214.0,576.5 L216.0,578.8 L218.0,577.6 L220.0,574.7 L222.0,572.2 L223.7,568.2 L225.3,564.1 L227.0,564.4 L228.5,559.2 L230.0,558.4 L231.5,556.2 L232.3,550.5 L233.2,547.5 L234.0,547.1 L234.7,543.1 L235.3,537.4 L236.0,534.2 L237.0,532.3 L238.0,533.9 L239.0,531.5 L240.3,528.0 L241.7,530.9 L243.0,531.3 L244.3,530.1 L245.7,529.0 L247.0,530.2 L248.3,528.6 L249.7,528.4 L251.0,533.2 L251.8,532.7 L252.7,533.1 L253.5,536.1 L254.3,537.7 L255.2,543.8 L256.0,547.6 L256.8,549.3 L257.7,554.2 L258.5,559.0 L259.3,562.4 L260.2,567.7 L261.0,569.9 L262.0,573.3 L263.0,574.6 L264.0,581.0 L265.3,578.8 L266.7,579.8 L268.0,580.9 L270.3,581.0 L272.7,580.1 L275.0,580.5" fill="none" stroke="#c4321a" stroke-width="1.1" stroke-linejoin="round"/>
<path d="M210.0,581.0 L216.0,580.4 L222.0,580.4 L228.0,580.3 L230.3,577.7 L232.7,577.9 L235.0,576.0 L236.7,573.1 L238.3,573.2 L240.0,569.0 L241.3,567.6 L242.7,566.0 L244.0,563.2 L245.3,560.1 L246.7,558.4 L248.0,556.2 L249.2,554.2 L250.3,549.5 L251.5,548.2 L252.3,543.9 L253.2,540.7 L254.0,538.8 L254.5,534.7 L255.0,531.5 L255.5,528.8 L256.0,526.5 L256.5,522.4 L257.0,520.1 L257.5,523.2 L258.0,526.6 L258.5,530.6 L259.0,537.2 L259.5,544.8 L260.0,551.9 L260.7,560.4 L261.3,566.6 L262.0,574.2 L262.7,576.7 L263.3,576.9 L264.0,580.2 L267.7,581.0 L271.3,581.0 L275.0,580.5" fill="none" stroke="#2626b8" stroke-width="1.1" stroke-linejoin="round"/>
<path d="M134.5,622.6 L135.2,617.9 L135.8,614.5 L136.5,608.4 L137.2,605.4 L137.8,601.1 L138.5,599.6 L139.5,598.2 L140.5,596.8 L141.5,592.2 L142.2,595.8 L142.8,597.1 L143.5,596.7 L144.2,601.4 L144.8,603.7 L145.5,603.0 L146.2,609.7 L146.8,611.6 L147.5,616.0 L148.3,623.8 L149.2,629.2 L150.0,632.7 L151.0,636.7 L152.0,640.1 L153.0,642.4 L154.3,642.9 L155.7,644.3 L157.0,646.8 L158.7,644.5 L160.3,646.9 L162.0,646.8 L163.3,644.5 L164.7,645.0 L166.0,645.5 L166.8,644.5 L167.7,642.4 L168.5,645.3 L169.3,645.7 L170.2,647.6 L171.0,645.5 L172.7,647.1 L174.3,647.3 L176.0,651.0 L178.3,649.8 L180.7,649.9 L183.0,651.7 L188.3,653.5 L193.7,653.5 L199.0,653.0" fill="none" stroke="#2626b8" stroke-width="1.1" stroke-linejoin="round"/>
<path d="M134.5,640.8 L136.0,640.9 L137.5,645.5 L139.0,644.4 L140.7,645.4 L142.3,642.6 L144.0,642.7 L145.7,644.6 L147.3,642.0 L149.0,638.8 L150.3,641.6 L151.7,638.4 L153.0,637.5 L154.3,631.2 L155.7,632.5 L157.0,625.8 L158.3,626.9 L159.7,621.8 L161.0,618.2 L162.0,616.3 L163.0,615.2 L164.0,608.8 L165.0,605.6 L166.0,605.1 L167.0,601.2 L168.0,601.0 L169.0,601.8 L170.0,601.7 L171.0,602.6 L172.0,603.4 L173.0,603.5 L174.0,606.3 L175.0,604.4 L176.0,606.0 L177.0,606.0 L178.0,608.6 L179.0,608.5 L180.0,611.4 L181.0,611.9 L182.0,617.2 L183.0,618.3 L184.0,618.4 L185.0,621.9 L186.0,626.9 L187.0,625.3 L188.0,631.6 L189.0,632.3 L190.0,635.3 L191.0,639.7 L192.0,640.1 L193.0,643.4 L194.0,647.0 L195.0,650.5 L196.0,649.2 L197.0,653.5 L197.8,653.4 L198.7,653.4 L199.5,653.0" fill="none" stroke="#c4321a" stroke-width="1.1" stroke-linejoin="round"/>
<path d="M210.0,648.5 L211.7,647.6 L213.3,645.4 L215.0,645.1 L217.3,643.3 L219.7,645.2 L222.0,641.3 L223.7,638.9 L225.3,636.7 L227.0,638.7 L228.5,636.1 L230.0,632.2 L231.5,627.4 L232.7,623.4 L233.8,619.8 L235.0,616.8 L236.0,611.9 L237.0,610.1 L238.0,605.8 L238.8,606.4 L239.7,603.4 L240.5,598.2 L241.3,594.2 L242.2,595.4 L243.0,589.5 L243.8,591.9 L244.7,592.3 L245.5,596.4 L246.5,600.2 L247.5,603.7 L248.5,605.5 L249.3,610.4 L250.2,611.1 L251.0,615.8 L251.7,617.6 L252.3,621.8 L253.0,622.7 L253.8,625.9 L254.7,630.7 L255.5,633.6 L256.3,638.4 L257.2,641.1 L258.0,645.3 L259.0,646.8 L260.0,649.1 L261.0,651.9 L262.0,650.4 L263.0,651.1 L264.0,653.5 L267.7,651.2 L271.3,653.5 L275.0,653.0" fill="none" stroke="#c4321a" stroke-width="1.1" stroke-linejoin="round"/>
<path d="M210.0,653.4 L217.3,651.5 L224.7,653.5 L232.0,653.5 L234.0,652.5 L236.0,652.3 L238.0,652.0 L239.3,648.2 L240.7,647.7 L242.0,646.0 L243.2,645.2 L244.3,643.3 L245.5,641.5 L246.7,638.3 L247.8,636.7 L249.0,633.6 L250.0,630.9 L251.0,626.8 L252.0,623.6 L252.8,620.2 L253.7,617.2 L254.5,612.8 L255.3,610.5 L256.2,605.2 L257.0,600.9 L257.5,604.7 L258.0,608.7 L258.5,612.0 L259.0,615.8 L259.5,623.6 L260.0,628.8 L260.7,633.0 L261.3,638.1 L262.0,643.5 L262.8,644.8 L263.7,650.1 L264.5,651.7 L268.0,651.4 L271.5,652.1 L275.0,653.0" fill="none" stroke="#2626b8" stroke-width="1.1" stroke-linejoin="round"/>
<rect x="134.30" y="443.00" width="66.20" height="66.20" fill="none" stroke="#111" stroke-width="1.4" />
<line x1="134.30" y1="509.20" x2="200.50" y2="509.20" stroke="#111" stroke-width="1.5" stroke-linecap="butt"/>
<line x1="132.70" y1="448.52" x2="134.30" y2="448.52" stroke="#222" stroke-width="0.7" stroke-linecap="butt"/>
<line x1="132.70" y1="454.03" x2="134.30" y2="454.03" stroke="#222" stroke-width="0.7" stroke-linecap="butt"/>
<line x1="132.70" y1="459.55" x2="134.30" y2="459.55" stroke="#222" stroke-width="0.7" stroke-linecap="butt"/>
<line x1="132.70" y1="465.07" x2="134.30" y2="465.07" stroke="#222" stroke-width="0.7" stroke-linecap="butt"/>
<line x1="132.70" y1="470.58" x2="134.30" y2="470.58" stroke="#222" stroke-width="0.7" stroke-linecap="butt"/>
<line x1="132.70" y1="476.10" x2="134.30" y2="476.10" stroke="#222" stroke-width="0.7" stroke-linecap="butt"/>
<line x1="132.70" y1="481.62" x2="134.30" y2="481.62" stroke="#222" stroke-width="0.7" stroke-linecap="butt"/>
<line x1="132.70" y1="487.13" x2="134.30" y2="487.13" stroke="#222" stroke-width="0.7" stroke-linecap="butt"/>
<line x1="132.70" y1="492.65" x2="134.30" y2="492.65" stroke="#222" stroke-width="0.7" stroke-linecap="butt"/>
<line x1="132.70" y1="498.17" x2="134.30" y2="498.17" stroke="#222" stroke-width="0.7" stroke-linecap="butt"/>
<line x1="132.70" y1="503.68" x2="134.30" y2="503.68" stroke="#222" stroke-width="0.7" stroke-linecap="butt"/>
<line x1="139.03" y1="509.20" x2="139.03" y2="511.20" stroke="#111" stroke-width="0.9" stroke-linecap="butt"/>
<line x1="143.76" y1="509.20" x2="143.76" y2="511.20" stroke="#111" stroke-width="0.9" stroke-linecap="butt"/>
<line x1="148.49" y1="509.20" x2="148.49" y2="511.20" stroke="#111" stroke-width="0.9" stroke-linecap="butt"/>
<line x1="153.21" y1="509.20" x2="153.21" y2="511.20" stroke="#111" stroke-width="0.9" stroke-linecap="butt"/>
<line x1="157.94" y1="509.20" x2="157.94" y2="511.20" stroke="#111" stroke-width="0.9" stroke-linecap="butt"/>
<line x1="162.67" y1="509.20" x2="162.67" y2="511.20" stroke="#111" stroke-width="0.9" stroke-linecap="butt"/>
<line x1="167.40" y1="509.20" x2="167.40" y2="511.20" stroke="#111" stroke-width="0.9" stroke-linecap="butt"/>
<line x1="172.13" y1="509.20" x2="172.13" y2="511.20" stroke="#111" stroke-width="0.9" stroke-linecap="butt"/>
<line x1="176.86" y1="509.20" x2="176.86" y2="511.20" stroke="#111" stroke-width="0.9" stroke-linecap="butt"/>
<line x1="181.59" y1="509.20" x2="181.59" y2="511.20" stroke="#111" stroke-width="0.9" stroke-linecap="butt"/>
<line x1="186.31" y1="509.20" x2="186.31" y2="511.20" stroke="#111" stroke-width="0.9" stroke-linecap="butt"/>
<line x1="191.04" y1="509.20" x2="191.04" y2="511.20" stroke="#111" stroke-width="0.9" stroke-linecap="butt"/>
<line x1="195.77" y1="509.20" x2="195.77" y2="511.20" stroke="#111" stroke-width="0.9" stroke-linecap="butt"/>
<rect x="134.30" y="515.60" width="66.20" height="66.20" fill="none" stroke="#111" stroke-width="1.4" />
<line x1="134.30" y1="581.80" x2="200.50" y2="581.80" stroke="#111" stroke-width="1.5" stroke-linecap="butt"/>
<line x1="132.70" y1="521.12" x2="134.30" y2="521.12" stroke="#222" stroke-width="0.7" stroke-linecap="butt"/>
<line x1="132.70" y1="526.63" x2="134.30" y2="526.63" stroke="#222" stroke-width="0.7" stroke-linecap="butt"/>
<line x1="132.70" y1="532.15" x2="134.30" y2="532.15" stroke="#222" stroke-width="0.7" stroke-linecap="butt"/>
<line x1="132.70" y1="537.67" x2="134.30" y2="537.67" stroke="#222" stroke-width="0.7" stroke-linecap="butt"/>
<line x1="132.70" y1="543.18" x2="134.30" y2="543.18" stroke="#222" stroke-width="0.7" stroke-linecap="butt"/>
<line x1="132.70" y1="548.70" x2="134.30" y2="548.70" stroke="#222" stroke-width="0.7" stroke-linecap="butt"/>
<line x1="132.70" y1="554.22" x2="134.30" y2="554.22" stroke="#222" stroke-width="0.7" stroke-linecap="butt"/>
<line x1="132.70" y1="559.73" x2="134.30" y2="559.73" stroke="#222" stroke-width="0.7" stroke-linecap="butt"/>
<line x1="132.70" y1="565.25" x2="134.30" y2="565.25" stroke="#222" stroke-width="0.7" stroke-linecap="butt"/>
<line x1="132.70" y1="570.77" x2="134.30" y2="570.77" stroke="#222" stroke-width="0.7" stroke-linecap="butt"/>
<line x1="132.70" y1="576.28" x2="134.30" y2="576.28" stroke="#222" stroke-width="0.7" stroke-linecap="butt"/>
<line x1="139.03" y1="581.80" x2="139.03" y2="583.80" stroke="#111" stroke-width="0.9" stroke-linecap="butt"/>
<line x1="143.76" y1="581.80" x2="143.76" y2="583.80" stroke="#111" stroke-width="0.9" stroke-linecap="butt"/>
<line x1="148.49" y1="581.80" x2="148.49" y2="583.80" stroke="#111" stroke-width="0.9" stroke-linecap="butt"/>
<line x1="153.21" y1="581.80" x2="153.21" y2="583.80" stroke="#111" stroke-width="0.9" stroke-linecap="butt"/>
<line x1="157.94" y1="581.80" x2="157.94" y2="583.80" stroke="#111" stroke-width="0.9" stroke-linecap="butt"/>
<line x1="162.67" y1="581.80" x2="162.67" y2="583.80" stroke="#111" stroke-width="0.9" stroke-linecap="butt"/>
<line x1="167.40" y1="581.80" x2="167.40" y2="583.80" stroke="#111" stroke-width="0.9" stroke-linecap="butt"/>
<line x1="172.13" y1="581.80" x2="172.13" y2="583.80" stroke="#111" stroke-width="0.9" stroke-linecap="butt"/>
<line x1="176.86" y1="581.80" x2="176.86" y2="583.80" stroke="#111" stroke-width="0.9" stroke-linecap="butt"/>
<line x1="181.59" y1="581.80" x2="181.59" y2="583.80" stroke="#111" stroke-width="0.9" stroke-linecap="butt"/>
<line x1="186.31" y1="581.80" x2="186.31" y2="583.80" stroke="#111" stroke-width="0.9" stroke-linecap="butt"/>
<line x1="191.04" y1="581.80" x2="191.04" y2="583.80" stroke="#111" stroke-width="0.9" stroke-linecap="butt"/>
<line x1="195.77" y1="581.80" x2="195.77" y2="583.80" stroke="#111" stroke-width="0.9" stroke-linecap="butt"/>
<rect x="134.30" y="587.80" width="66.20" height="66.20" fill="none" stroke="#111" stroke-width="1.4" />
<line x1="134.30" y1="654.00" x2="200.50" y2="654.00" stroke="#111" stroke-width="1.5" stroke-linecap="butt"/>
<line x1="132.70" y1="593.32" x2="134.30" y2="593.32" stroke="#222" stroke-width="0.7" stroke-linecap="butt"/>
<line x1="132.70" y1="598.83" x2="134.30" y2="598.83" stroke="#222" stroke-width="0.7" stroke-linecap="butt"/>
<line x1="132.70" y1="604.35" x2="134.30" y2="604.35" stroke="#222" stroke-width="0.7" stroke-linecap="butt"/>
<line x1="132.70" y1="609.87" x2="134.30" y2="609.87" stroke="#222" stroke-width="0.7" stroke-linecap="butt"/>
<line x1="132.70" y1="615.38" x2="134.30" y2="615.38" stroke="#222" stroke-width="0.7" stroke-linecap="butt"/>
<line x1="132.70" y1="620.90" x2="134.30" y2="620.90" stroke="#222" stroke-width="0.7" stroke-linecap="butt"/>
<line x1="132.70" y1="626.42" x2="134.30" y2="626.42" stroke="#222" stroke-width="0.7" stroke-linecap="butt"/>
<line x1="132.70" y1="631.93" x2="134.30" y2="631.93" stroke="#222" stroke-width="0.7" stroke-linecap="butt"/>
<line x1="132.70" y1="637.45" x2="134.30" y2="637.45" stroke="#222" stroke-width="0.7" stroke-linecap="butt"/>
<line x1="132.70" y1="642.97" x2="134.30" y2="642.97" stroke="#222" stroke-width="0.7" stroke-linecap="butt"/>
<line x1="132.70" y1="648.48" x2="134.30" y2="648.48" stroke="#222" stroke-width="0.7" stroke-linecap="butt"/>
<line x1="139.03" y1="654.00" x2="139.03" y2="656.00" stroke="#111" stroke-width="0.9" stroke-linecap="butt"/>
<line x1="143.76" y1="654.00" x2="143.76" y2="656.00" stroke="#111" stroke-width="0.9" stroke-linecap="butt"/>
<line x1="148.49" y1="654.00" x2="148.49" y2="656.00" stroke="#111" stroke-width="0.9" stroke-linecap="butt"/>
<line x1="153.21" y1="654.00" x2="153.21" y2="656.00" stroke="#111" stroke-width="0.9" stroke-linecap="butt"/>
<line x1="157.94" y1="654.00" x2="157.94" y2="656.00" stroke="#111" stroke-width="0.9" stroke-linecap="butt"/>
<line x1="162.67" y1="654.00" x2="162.67" y2="656.00" stroke="#111" stroke-width="0.9" stroke-linecap="butt"/>
<line x1="167.40" y1="654.00" x2="167.40" y2="656.00" stroke="#111" stroke-width="0.9" stroke-linecap="butt"/>
<line x1="172.13" y1="654.00" x2="172.13" y2="656.00" stroke="#111" stroke-width="0.9" stroke-linecap="butt"/>
<line x1="176.86" y1="654.00" x2="176.86" y2="656.00" stroke="#111" stroke-width="0.9" stroke-linecap="butt"/>
<line x1="181.59" y1="654.00" x2="181.59" y2="656.00" stroke="#111" stroke-width="0.9" stroke-linecap="butt"/>
<line x1="186.31" y1="654.00" x2="186.31" y2="656.00" stroke="#111" stroke-width="0.9" stroke-linecap="butt"/>
<line x1="191.04" y1="654.00" x2="191.04" y2="656.00" stroke="#111" stroke-width="0.9" stroke-linecap="butt"/>
<line x1="195.77" y1="654.00" x2="195.77" y2="656.00" stroke="#111" stroke-width="0.9" stroke-linecap="butt"/>
<rect x="209.30" y="443.00" width="66.20" height="66.20" fill="none" stroke="#111" stroke-width="1.4" />
<line x1="209.30" y1="509.20" x2="275.50" y2="509.20" stroke="#111" stroke-width="1.5" stroke-linecap="butt"/>
<line x1="207.70" y1="448.52" x2="209.30" y2="448.52" stroke="#222" stroke-width="0.7" stroke-linecap="butt"/>
<line x1="207.70" y1="454.03" x2="209.30" y2="454.03" stroke="#222" stroke-width="0.7" stroke-linecap="butt"/>
<line x1="207.70" y1="459.55" x2="209.30" y2="459.55" stroke="#222" stroke-width="0.7" stroke-linecap="butt"/>
<line x1="207.70" y1="465.07" x2="209.30" y2="465.07" stroke="#222" stroke-width="0.7" stroke-linecap="butt"/>
<line x1="207.70" y1="470.58" x2="209.30" y2="470.58" stroke="#222" stroke-width="0.7" stroke-linecap="butt"/>
<line x1="207.70" y1="476.10" x2="209.30" y2="476.10" stroke="#222" stroke-width="0.7" stroke-linecap="butt"/>
<line x1="207.70" y1="481.62" x2="209.30" y2="481.62" stroke="#222" stroke-width="0.7" stroke-linecap="butt"/>
<line x1="207.70" y1="487.13" x2="209.30" y2="487.13" stroke="#222" stroke-width="0.7" stroke-linecap="butt"/>
<line x1="207.70" y1="492.65" x2="209.30" y2="492.65" stroke="#222" stroke-width="0.7" stroke-linecap="butt"/>
<line x1="207.70" y1="498.17" x2="209.30" y2="498.17" stroke="#222" stroke-width="0.7" stroke-linecap="butt"/>
<line x1="207.70" y1="503.68" x2="209.30" y2="503.68" stroke="#222" stroke-width="0.7" stroke-linecap="butt"/>
<line x1="214.03" y1="509.20" x2="214.03" y2="511.20" stroke="#111" stroke-width="0.9" stroke-linecap="butt"/>
<line x1="218.76" y1="509.20" x2="218.76" y2="511.20" stroke="#111" stroke-width="0.9" stroke-linecap="butt"/>
<line x1="223.49" y1="509.20" x2="223.49" y2="511.20" stroke="#111" stroke-width="0.9" stroke-linecap="butt"/>
<line x1="228.21" y1="509.20" x2="228.21" y2="511.20" stroke="#111" stroke-width="0.9" stroke-linecap="butt"/>
<line x1="232.94" y1="509.20" x2="232.94" y2="511.20" stroke="#111" stroke-width="0.9" stroke-linecap="butt"/>
<line x1="237.67" y1="509.20" x2="237.67" y2="511.20" stroke="#111" stroke-width="0.9" stroke-linecap="butt"/>
<line x1="242.40" y1="509.20" x2="242.40" y2="511.20" stroke="#111" stroke-width="0.9" stroke-linecap="butt"/>
<line x1="247.13" y1="509.20" x2="247.13" y2="511.20" stroke="#111" stroke-width="0.9" stroke-linecap="butt"/>
<line x1="251.86" y1="509.20" x2="251.86" y2="511.20" stroke="#111" stroke-width="0.9" stroke-linecap="butt"/>
<line x1="256.59" y1="509.20" x2="256.59" y2="511.20" stroke="#111" stroke-width="0.9" stroke-linecap="butt"/>
<line x1="261.31" y1="509.20" x2="261.31" y2="511.20" stroke="#111" stroke-width="0.9" stroke-linecap="butt"/>
<line x1="266.04" y1="509.20" x2="266.04" y2="511.20" stroke="#111" stroke-width="0.9" stroke-linecap="butt"/>
<line x1="270.77" y1="509.20" x2="270.77" y2="511.20" stroke="#111" stroke-width="0.9" stroke-linecap="butt"/>
<rect x="209.30" y="515.60" width="66.20" height="66.20" fill="none" stroke="#111" stroke-width="1.4" />
<line x1="209.30" y1="581.80" x2="275.50" y2="581.80" stroke="#111" stroke-width="1.5" stroke-linecap="butt"/>
<line x1="207.70" y1="521.12" x2="209.30" y2="521.12" stroke="#222" stroke-width="0.7" stroke-linecap="butt"/>
<line x1="207.70" y1="526.63" x2="209.30" y2="526.63" stroke="#222" stroke-width="0.7" stroke-linecap="butt"/>
<line x1="207.70" y1="532.15" x2="209.30" y2="532.15" stroke="#222" stroke-width="0.7" stroke-linecap="butt"/>
<line x1="207.70" y1="537.67" x2="209.30" y2="537.67" stroke="#222" stroke-width="0.7" stroke-linecap="butt"/>
<line x1="207.70" y1="543.18" x2="209.30" y2="543.18" stroke="#222" stroke-width="0.7" stroke-linecap="butt"/>
<line x1="207.70" y1="548.70" x2="209.30" y2="548.70" stroke="#222" stroke-width="0.7" stroke-linecap="butt"/>
<line x1="207.70" y1="554.22" x2="209.30" y2="554.22" stroke="#222" stroke-width="0.7" stroke-linecap="butt"/>
<line x1="207.70" y1="559.73" x2="209.30" y2="559.73" stroke="#222" stroke-width="0.7" stroke-linecap="butt"/>
<line x1="207.70" y1="565.25" x2="209.30" y2="565.25" stroke="#222" stroke-width="0.7" stroke-linecap="butt"/>
<line x1="207.70" y1="570.77" x2="209.30" y2="570.77" stroke="#222" stroke-width="0.7" stroke-linecap="butt"/>
<line x1="207.70" y1="576.28" x2="209.30" y2="576.28" stroke="#222" stroke-width="0.7" stroke-linecap="butt"/>
<line x1="214.03" y1="581.80" x2="214.03" y2="583.80" stroke="#111" stroke-width="0.9" stroke-linecap="butt"/>
<line x1="218.76" y1="581.80" x2="218.76" y2="583.80" stroke="#111" stroke-width="0.9" stroke-linecap="butt"/>
<line x1="223.49" y1="581.80" x2="223.49" y2="583.80" stroke="#111" stroke-width="0.9" stroke-linecap="butt"/>
<line x1="228.21" y1="581.80" x2="228.21" y2="583.80" stroke="#111" stroke-width="0.9" stroke-linecap="butt"/>
<line x1="232.94" y1="581.80" x2="232.94" y2="583.80" stroke="#111" stroke-width="0.9" stroke-linecap="butt"/>
<line x1="237.67" y1="581.80" x2="237.67" y2="583.80" stroke="#111" stroke-width="0.9" stroke-linecap="butt"/>
<line x1="242.40" y1="581.80" x2="242.40" y2="583.80" stroke="#111" stroke-width="0.9" stroke-linecap="butt"/>
<line x1="247.13" y1="581.80" x2="247.13" y2="583.80" stroke="#111" stroke-width="0.9" stroke-linecap="butt"/>
<line x1="251.86" y1="581.80" x2="251.86" y2="583.80" stroke="#111" stroke-width="0.9" stroke-linecap="butt"/>
<line x1="256.59" y1="581.80" x2="256.59" y2="583.80" stroke="#111" stroke-width="0.9" stroke-linecap="butt"/>
<line x1="261.31" y1="581.80" x2="261.31" y2="583.80" stroke="#111" stroke-width="0.9" stroke-linecap="butt"/>
<line x1="266.04" y1="581.80" x2="266.04" y2="583.80" stroke="#111" stroke-width="0.9" stroke-linecap="butt"/>
<line x1="270.77" y1="581.80" x2="270.77" y2="583.80" stroke="#111" stroke-width="0.9" stroke-linecap="butt"/>
<rect x="209.30" y="587.80" width="66.20" height="66.20" fill="none" stroke="#111" stroke-width="1.4" />
<line x1="209.30" y1="654.00" x2="275.50" y2="654.00" stroke="#111" stroke-width="1.5" stroke-linecap="butt"/>
<line x1="207.70" y1="593.32" x2="209.30" y2="593.32" stroke="#222" stroke-width="0.7" stroke-linecap="butt"/>
<line x1="207.70" y1="598.83" x2="209.30" y2="598.83" stroke="#222" stroke-width="0.7" stroke-linecap="butt"/>
<line x1="207.70" y1="604.35" x2="209.30" y2="604.35" stroke="#222" stroke-width="0.7" stroke-linecap="butt"/>
<line x1="207.70" y1="609.87" x2="209.30" y2="609.87" stroke="#222" stroke-width="0.7" stroke-linecap="butt"/>
<line x1="207.70" y1="615.38" x2="209.30" y2="615.38" stroke="#222" stroke-width="0.7" stroke-linecap="butt"/>
<line x1="207.70" y1="620.90" x2="209.30" y2="620.90" stroke="#222" stroke-width="0.7" stroke-linecap="butt"/>
<line x1="207.70" y1="626.42" x2="209.30" y2="626.42" stroke="#222" stroke-width="0.7" stroke-linecap="butt"/>
<line x1="207.70" y1="631.93" x2="209.30" y2="631.93" stroke="#222" stroke-width="0.7" stroke-linecap="butt"/>
<line x1="207.70" y1="637.45" x2="209.30" y2="637.45" stroke="#222" stroke-width="0.7" stroke-linecap="butt"/>
<line x1="207.70" y1="642.97" x2="209.30" y2="642.97" stroke="#222" stroke-width="0.7" stroke-linecap="butt"/>
<line x1="207.70" y1="648.48" x2="209.30" y2="648.48" stroke="#222" stroke-width="0.7" stroke-linecap="butt"/>
<line x1="214.03" y1="654.00" x2="214.03" y2="656.00" stroke="#111" stroke-width="0.9" stroke-linecap="butt"/>
<line x1="218.76" y1="654.00" x2="218.76" y2="656.00" stroke="#111" stroke-width="0.9" stroke-linecap="butt"/>
<line x1="223.49" y1="654.00" x2="223.49" y2="656.00" stroke="#111" stroke-width="0.9" stroke-linecap="butt"/>
<line x1="228.21" y1="654.00" x2="228.21" y2="656.00" stroke="#111" stroke-width="0.9" stroke-linecap="butt"/>
<line x1="232.94" y1="654.00" x2="232.94" y2="656.00" stroke="#111" stroke-width="0.9" stroke-linecap="butt"/>
<line x1="237.67" y1="654.00" x2="237.67" y2="656.00" stroke="#111" stroke-width="0.9" stroke-linecap="butt"/>
<line x1="242.40" y1="654.00" x2="242.40" y2="656.00" stroke="#111" stroke-width="0.9" stroke-linecap="butt"/>
<line x1="247.13" y1="654.00" x2="247.13" y2="656.00" stroke="#111" stroke-width="0.9" stroke-linecap="butt"/>
<line x1="251.86" y1="654.00" x2="251.86" y2="656.00" stroke="#111" stroke-width="0.9" stroke-linecap="butt"/>
<line x1="256.59" y1="654.00" x2="256.59" y2="656.00" stroke="#111" stroke-width="0.9" stroke-linecap="butt"/>
<line x1="261.31" y1="654.00" x2="261.31" y2="656.00" stroke="#111" stroke-width="0.9" stroke-linecap="butt"/>
<line x1="266.04" y1="654.00" x2="266.04" y2="656.00" stroke="#111" stroke-width="0.9" stroke-linecap="butt"/>
<line x1="270.77" y1="654.00" x2="270.77" y2="656.00" stroke="#111" stroke-width="0.9" stroke-linecap="butt"/>
<line x1="136.80" y1="664.50" x2="148.50" y2="664.50" stroke="#222" stroke-width="1.1" stroke-linecap="butt"/>
<text transform="translate(165.80,668.40) scale(0.86,1)" text-anchor="middle" fill="#111" stroke="#111" stroke-width="0.18" style="font-size:10.2px;">CD138</text>
<line x1="183.80" y1="664.50" x2="194.00" y2="664.50" stroke="#222" stroke-width="1.1" stroke-linecap="butt"/>
<path d="M198.50,664.50 L193.00,662.00 L193.00,667.00Z" fill="#222"/>
<line x1="211.50" y1="664.50" x2="223.80" y2="664.50" stroke="#222" stroke-width="1.1" stroke-linecap="butt"/>
<text transform="translate(241.00,668.40) scale(0.9,1)" text-anchor="middle" fill="#111" stroke="#111" stroke-width="0.18" style="font-size:10.2px;">B220</text>
<line x1="257.70" y1="664.50" x2="269.70" y2="664.50" stroke="#222" stroke-width="1.1" stroke-linecap="butt"/>
<path d="M274.20,664.50 L268.70,662.00 L268.70,667.00Z" fill="#222"/>
<text transform="translate(350.20,439.00)" text-anchor="middle" fill="#111" stroke="#111" stroke-width="0.18" style="font-size:10.1px;">Gated EGFP+</text>
<g clip-path="url(#cp16)"><g filter="url(#sp1)"><g transform="translate(314,441) scale(0.13846)"><ellipse cx="90" cy="200" rx="90" ry="120" fill="#000" fill-opacity="0.3"/><ellipse cx="330" cy="180" rx="150" ry="100" fill="#000" fill-opacity="0.1"/></g></g><g filter="url(#bl1)"><g transform="translate(314,441) scale(0.13846)"><path d="M20,95 L120,95 Q155,110 150,150 Q150,195 110,198 L20,198 Z" fill="#000" fill-opacity="1.0"/><ellipse cx="80" cy="235" rx="85" ry="55" fill="#000" fill-opacity="0.5"/><ellipse cx="60" cy="290" rx="50" ry="40" fill="#000" fill-opacity="0.2"/></g></g><g filter="url(#bl05)"><g transform="translate(314,441) scale(0.13846)"><ellipse cx="62" cy="142" rx="12" ry="5" fill="#fff" fill-opacity="0.9"/></g></g><g filter="url(#bl15)"><g transform="translate(314,441) scale(0.13846)"><ellipse cx="350" cy="170" rx="105" ry="55" fill="#000" fill-opacity="0.15" transform="rotate(12 350 170)"/><ellipse cx="400" cy="160" rx="40" ry="25" fill="#000" fill-opacity="0.15"/></g></g><g><g transform="translate(314,441) scale(0.13846)"><path d="M200,120 Q300,70 420,120 Q480,170 440,230 Q380,290 300,270 Q230,290 210,230 Q180,170 200,120 Z" fill="none" fill-opacity="1.0" stroke="#9a9a9a" stroke-width="0.45" vector-effect="non-scaling-stroke" stroke-linejoin="round"/><path d="M240,140 Q320,100 400,140 Q440,180 400,220 Q340,250 280,230 Q230,190 240,140 Z" fill="none" fill-opacity="1.0" stroke="#9a9a9a" stroke-width="0.4" vector-effect="non-scaling-stroke" stroke-linejoin="round"/><path d="M290,160 Q340,140 380,165 Q390,200 350,210 Q300,205 290,160 Z M230,230 Q260,215 280,240 Q260,260 235,250 Z" fill="none" fill-opacity="1.0" stroke="#9a9a9a" stroke-width="0.4" vector-effect="non-scaling-stroke" stroke-linejoin="round"/><ellipse cx="205" cy="272" rx="25" ry="10" fill="none" fill-opacity="1.0" stroke="#9a9a9a" stroke-width="0.4" vector-effect="non-scaling-stroke"/><path d="M40,300 Q80,330 60,350 M100,290 Q140,320 120,350 Q150,360 150,340" fill="none" fill-opacity="1.0" stroke="#b8a0c0" stroke-width="0.4" vector-effect="non-scaling-stroke" stroke-linejoin="round"/></g></g></g>
<line x1="338.60" y1="443.50" x2="338.60" y2="508.70" stroke="#b77fc4" stroke-width="0.8" stroke-linecap="butt"/>
<line x1="317.00" y1="486.00" x2="382.40" y2="486.00" stroke="#b77fc4" stroke-width="0.8" stroke-linecap="butt"/>
<rect x="317.00" y="443.50" width="65.40" height="65.20" fill="none" stroke="#222" stroke-width="1.0" />
<line x1="317.00" y1="443.50" x2="317.00" y2="508.70" stroke="#111" stroke-width="1.5" stroke-linecap="butt"/>
<line x1="317.00" y1="508.70" x2="382.40" y2="508.70" stroke="#111" stroke-width="1.5" stroke-linecap="butt"/>
<line x1="314.80" y1="448.16" x2="317.00" y2="448.16" stroke="#111" stroke-width="0.9" stroke-linecap="butt"/>
<line x1="321.67" y1="508.70" x2="321.67" y2="510.90" stroke="#111" stroke-width="0.9" stroke-linecap="butt"/>
<line x1="314.80" y1="452.81" x2="317.00" y2="452.81" stroke="#111" stroke-width="0.9" stroke-linecap="butt"/>
<line x1="326.34" y1="508.70" x2="326.34" y2="510.90" stroke="#111" stroke-width="0.9" stroke-linecap="butt"/>
<line x1="314.80" y1="457.47" x2="317.00" y2="457.47" stroke="#111" stroke-width="0.9" stroke-linecap="butt"/>
<line x1="331.01" y1="508.70" x2="331.01" y2="510.90" stroke="#111" stroke-width="0.9" stroke-linecap="butt"/>
<line x1="314.80" y1="462.13" x2="317.00" y2="462.13" stroke="#111" stroke-width="0.9" stroke-linecap="butt"/>
<line x1="335.69" y1="508.70" x2="335.69" y2="510.90" stroke="#111" stroke-width="0.9" stroke-linecap="butt"/>
<line x1="314.80" y1="466.79" x2="317.00" y2="466.79" stroke="#111" stroke-width="0.9" stroke-linecap="butt"/>
<line x1="340.36" y1="508.70" x2="340.36" y2="510.90" stroke="#111" stroke-width="0.9" stroke-linecap="butt"/>
<line x1="314.80" y1="471.44" x2="317.00" y2="471.44" stroke="#111" stroke-width="0.9" stroke-linecap="butt"/>
<line x1="345.03" y1="508.70" x2="345.03" y2="510.90" stroke="#111" stroke-width="0.9" stroke-linecap="butt"/>
<line x1="314.80" y1="476.10" x2="317.00" y2="476.10" stroke="#111" stroke-width="0.9" stroke-linecap="butt"/>
<line x1="349.70" y1="508.70" x2="349.70" y2="510.90" stroke="#111" stroke-width="0.9" stroke-linecap="butt"/>
<line x1="314.80" y1="480.76" x2="317.00" y2="480.76" stroke="#111" stroke-width="0.9" stroke-linecap="butt"/>
<line x1="354.37" y1="508.70" x2="354.37" y2="510.90" stroke="#111" stroke-width="0.9" stroke-linecap="butt"/>
<line x1="314.80" y1="485.41" x2="317.00" y2="485.41" stroke="#111" stroke-width="0.9" stroke-linecap="butt"/>
<line x1="359.04" y1="508.70" x2="359.04" y2="510.90" stroke="#111" stroke-width="0.9" stroke-linecap="butt"/>
<line x1="314.80" y1="490.07" x2="317.00" y2="490.07" stroke="#111" stroke-width="0.9" stroke-linecap="butt"/>
<line x1="363.71" y1="508.70" x2="363.71" y2="510.90" stroke="#111" stroke-width="0.9" stroke-linecap="butt"/>
<line x1="314.80" y1="494.73" x2="317.00" y2="494.73" stroke="#111" stroke-width="0.9" stroke-linecap="butt"/>
<line x1="368.39" y1="508.70" x2="368.39" y2="510.90" stroke="#111" stroke-width="0.9" stroke-linecap="butt"/>
<line x1="314.80" y1="499.39" x2="317.00" y2="499.39" stroke="#111" stroke-width="0.9" stroke-linecap="butt"/>
<line x1="373.06" y1="508.70" x2="373.06" y2="510.90" stroke="#111" stroke-width="0.9" stroke-linecap="butt"/>
<line x1="314.80" y1="504.04" x2="317.00" y2="504.04" stroke="#111" stroke-width="0.9" stroke-linecap="butt"/>
<line x1="377.73" y1="508.70" x2="377.73" y2="510.90" stroke="#111" stroke-width="0.9" stroke-linecap="butt"/>
<text transform="translate(318.30,453.50)" text-anchor="start" fill="#111" stroke="#111" stroke-width="0.18" style="font-size:9.4px;">85.8</text>
<text transform="translate(382.70,453.50)" text-anchor="end" fill="#111" stroke="#111" stroke-width="0.18" style="font-size:9.4px;">12.7</text>
<text transform="translate(318.30,508.10)" text-anchor="start" fill="#111" stroke="#111" stroke-width="0.18" style="font-size:9.4px;">1.26</text>
<text transform="translate(382.70,508.10)" text-anchor="end" fill="#111" stroke="#111" stroke-width="0.18" style="font-size:9.4px;">0.16</text>
<g clip-path="url(#cp17)"><g filter="url(#sp2)"><g transform="translate(314,513) scale(0.13846)"><ellipse cx="95" cy="220" rx="80" ry="150" fill="#000" fill-opacity="0.25"/><ellipse cx="320" cy="190" rx="170" ry="110" fill="#000" fill-opacity="0.2"/><ellipse cx="300" cy="390" rx="120" ry="60" fill="#000" fill-opacity="0.06"/></g></g><g filter="url(#bl08)"><g transform="translate(314,513) scale(0.13846)"><path d="M28,95 L155,95 L155,320 L28,320 Z" fill="#000" fill-opacity="0.3"/><path d="M40,335 L155,335 L155,420 L40,420 Z" fill="#000" fill-opacity="0.28"/><ellipse cx="55" cy="200" rx="9" ry="100" fill="#000" fill-opacity="0.4"/><ellipse cx="135" cy="210" rx="10" ry="100" fill="#000" fill-opacity="0.4"/><ellipse cx="95" cy="140" rx="8" ry="40" fill="#000" fill-opacity="0.35"/><ellipse cx="70" cy="380" rx="8" ry="35" fill="#000" fill-opacity="0.35"/><ellipse cx="125" cy="380" rx="8" ry="35" fill="#000" fill-opacity="0.35"/><path d="M8,88 L40,88 L40,425 L8,425 Z" fill="#000" fill-opacity="1.0"/><path d="M100,95 L156,95 L156,140 Z" fill="#000" fill-opacity="0.9"/><ellipse cx="70" cy="150" rx="14" ry="50" fill="#fff" fill-opacity="0.3" transform="rotate(5 70 150)"/><ellipse cx="110" cy="250" rx="12" ry="50" fill="#fff" fill-opacity="0.3" transform="rotate(-5 110 250)"/></g></g><g filter="url(#bl1)"><g transform="translate(314,513) scale(0.13846)"><path d="M175,135 Q260,100 400,105 Q470,125 468,190 Q465,255 400,268 Q320,285 250,265 Q190,230 175,135 Z" fill="#000" fill-opacity="0.3" stroke="#000" stroke-width="2.0" vector-effect="non-scaling-stroke" stroke-linejoin="round"/><ellipse cx="435" cy="190" rx="30" ry="68" fill="#000" fill-opacity="0.85"/><ellipse cx="320" cy="122" rx="110" ry="15" fill="#000" fill-opacity="0.85" transform="rotate(-3 320 122)"/><ellipse cx="360" cy="250" rx="80" ry="12" fill="#000" fill-opacity="0.5" transform="rotate(-8 360 250)"/><ellipse cx="340" cy="190" rx="60" ry="30" fill="#000" fill-opacity="0.3" transform="rotate(10 340 190)"/></g></g><g filter="url(#bl08)"><g transform="translate(314,513) scale(0.13846)"><ellipse cx="280" cy="190" rx="40" ry="14" fill="#fff" fill-opacity="0.45" transform="rotate(-20 280 190)"/><ellipse cx="370" cy="165" rx="22" ry="10" fill="#fff" fill-opacity="0.4"/><ellipse cx="230" cy="220" rx="25" ry="12" fill="#fff" fill-opacity="0.5" transform="rotate(20 230 220)"/><ellipse cx="330" cy="225" rx="30" ry="9" fill="#fff" fill-opacity="0.4" transform="rotate(-10 330 225)"/><ellipse cx="215" cy="160" rx="18" ry="10" fill="#fff" fill-opacity="0.4"/></g></g><g><g transform="translate(314,513) scale(0.13846)"><path d="M200,360 Q240,340 270,370 Q300,330 340,350 Q380,340 400,370 Q380,420 340,400 Q300,440 260,420 Q220,440 200,400 Z M230,380 Q260,370 270,400 M320,370 Q350,365 360,390" fill="none" fill-opacity="1.0" stroke="#ccc" stroke-width="0.5" vector-effect="non-scaling-stroke" stroke-linejoin="round"/></g></g></g>
<line x1="338.60" y1="515.50" x2="338.60" y2="580.70" stroke="#b77fc4" stroke-width="0.8" stroke-linecap="butt"/>
<line x1="317.00" y1="558.00" x2="382.40" y2="558.00" stroke="#b77fc4" stroke-width="0.8" stroke-linecap="butt"/>
<rect x="317.00" y="515.50" width="65.40" height="65.20" fill="none" stroke="#222" stroke-width="1.0" />
<line x1="317.00" y1="515.50" x2="317.00" y2="580.70" stroke="#111" stroke-width="1.5" stroke-linecap="butt"/>
<line x1="317.00" y1="580.70" x2="382.40" y2="580.70" stroke="#111" stroke-width="1.5" stroke-linecap="butt"/>
<line x1="314.80" y1="520.16" x2="317.00" y2="520.16" stroke="#111" stroke-width="0.9" stroke-linecap="butt"/>
<line x1="321.67" y1="580.70" x2="321.67" y2="582.90" stroke="#111" stroke-width="0.9" stroke-linecap="butt"/>
<line x1="314.80" y1="524.81" x2="317.00" y2="524.81" stroke="#111" stroke-width="0.9" stroke-linecap="butt"/>
<line x1="326.34" y1="580.70" x2="326.34" y2="582.90" stroke="#111" stroke-width="0.9" stroke-linecap="butt"/>
<line x1="314.80" y1="529.47" x2="317.00" y2="529.47" stroke="#111" stroke-width="0.9" stroke-linecap="butt"/>
<line x1="331.01" y1="580.70" x2="331.01" y2="582.90" stroke="#111" stroke-width="0.9" stroke-linecap="butt"/>
<line x1="314.80" y1="534.13" x2="317.00" y2="534.13" stroke="#111" stroke-width="0.9" stroke-linecap="butt"/>
<line x1="335.69" y1="580.70" x2="335.69" y2="582.90" stroke="#111" stroke-width="0.9" stroke-linecap="butt"/>
<line x1="314.80" y1="538.79" x2="317.00" y2="538.79" stroke="#111" stroke-width="0.9" stroke-linecap="butt"/>
<line x1="340.36" y1="580.70" x2="340.36" y2="582.90" stroke="#111" stroke-width="0.9" stroke-linecap="butt"/>
<line x1="314.80" y1="543.44" x2="317.00" y2="543.44" stroke="#111" stroke-width="0.9" stroke-linecap="butt"/>
<line x1="345.03" y1="580.70" x2="345.03" y2="582.90" stroke="#111" stroke-width="0.9" stroke-linecap="butt"/>
<line x1="314.80" y1="548.10" x2="317.00" y2="548.10" stroke="#111" stroke-width="0.9" stroke-linecap="butt"/>
<line x1="349.70" y1="580.70" x2="349.70" y2="582.90" stroke="#111" stroke-width="0.9" stroke-linecap="butt"/>
<line x1="314.80" y1="552.76" x2="317.00" y2="552.76" stroke="#111" stroke-width="0.9" stroke-linecap="butt"/>
<line x1="354.37" y1="580.70" x2="354.37" y2="582.90" stroke="#111" stroke-width="0.9" stroke-linecap="butt"/>
<line x1="314.80" y1="557.41" x2="317.00" y2="557.41" stroke="#111" stroke-width="0.9" stroke-linecap="butt"/>
<line x1="359.04" y1="580.70" x2="359.04" y2="582.90" stroke="#111" stroke-width="0.9" stroke-linecap="butt"/>
<line x1="314.80" y1="562.07" x2="317.00" y2="562.07" stroke="#111" stroke-width="0.9" stroke-linecap="butt"/>
<line x1="363.71" y1="580.70" x2="363.71" y2="582.90" stroke="#111" stroke-width="0.9" stroke-linecap="butt"/>
<line x1="314.80" y1="566.73" x2="317.00" y2="566.73" stroke="#111" stroke-width="0.9" stroke-linecap="butt"/>
<line x1="368.39" y1="580.70" x2="368.39" y2="582.90" stroke="#111" stroke-width="0.9" stroke-linecap="butt"/>
<line x1="314.80" y1="571.39" x2="317.00" y2="571.39" stroke="#111" stroke-width="0.9" stroke-linecap="butt"/>
<line x1="373.06" y1="580.70" x2="373.06" y2="582.90" stroke="#111" stroke-width="0.9" stroke-linecap="butt"/>
<line x1="314.80" y1="576.04" x2="317.00" y2="576.04" stroke="#111" stroke-width="0.9" stroke-linecap="butt"/>
<line x1="377.73" y1="580.70" x2="377.73" y2="582.90" stroke="#111" stroke-width="0.9" stroke-linecap="butt"/>
<text transform="translate(318.30,525.50)" text-anchor="start" fill="#111" stroke="#111" stroke-width="0.18" style="font-size:9.4px;">34.1</text>
<text transform="translate(382.70,525.50)" text-anchor="end" fill="#111" stroke="#111" stroke-width="0.18" style="font-size:9.4px;">52.5</text>
<text transform="translate(318.30,580.10)" text-anchor="start" fill="#111" stroke="#111" stroke-width="0.18" style="font-size:9.4px;">8.52</text>
<text transform="translate(382.70,580.10)" text-anchor="end" fill="#111" stroke="#111" stroke-width="0.18" style="font-size:9.4px;">4.62</text>
<g clip-path="url(#cp18)"><g filter="url(#sp3)"><g transform="translate(314,585) scale(0.13846)"><ellipse cx="100" cy="230" rx="80" ry="150" fill="#000" fill-opacity="0.2"/><ellipse cx="320" cy="200" rx="170" ry="120" fill="#000" fill-opacity="0.2"/><ellipse cx="250" cy="400" rx="150" ry="70" fill="#000" fill-opacity="0.08"/></g></g><g filter="url(#bl08)"><g transform="translate(314,585) scale(0.13846)"><path d="M12,100 L46,100 L46,412 L12,412 Z" fill="#000" fill-opacity="1.0"/><path d="M40,100 L150,100 L150,136 L40,136 Z" fill="#000" fill-opacity="0.95"/><path d="M46,136 L160,136 L160,320 L46,320 Z" fill="#000" fill-opacity="0.2"/><ellipse cx="75" cy="220" rx="10" ry="70" fill="#000" fill-opacity="0.3" transform="rotate(10 75 220)"/><ellipse cx="130" cy="200" rx="10" ry="60" fill="#000" fill-opacity="0.3" transform="rotate(-10 130 200)"/></g></g><g filter="url(#bl1)"><g transform="translate(314,585) scale(0.13846)"><path d="M178,125 Q260,85 400,95 Q468,125 470,200 Q465,270 400,290 Q300,305 230,270 Q185,220 178,125 Z" fill="#000" fill-opacity="0.28" stroke="#000" stroke-width="1.2" vector-effect="non-scaling-stroke" stroke-linejoin="round"/><path d="M185,120 Q280,92 400,105 L405,140 Q300,125 190,150 Z" fill="#000" fill-opacity="0.95"/><ellipse cx="310" cy="185" rx="90" ry="28" fill="#000" fill-opacity="0.45" transform="rotate(8 310 185)"/><ellipse cx="440" cy="200" rx="24" ry="70" fill="#000" fill-opacity="0.4"/><ellipse cx="330" cy="270" rx="80" ry="12" fill="#000" fill-opacity="0.35" transform="rotate(-5 330 270)"/><path d="M210,476 L262,476" fill="none" fill-opacity="1.0" stroke="#000" stroke-width="1.5" vector-effect="non-scaling-stroke" stroke-linejoin="round"/></g></g><g filter="url(#bl05)"><g transform="translate(314,585) scale(0.13846)"><ellipse cx="270" cy="172" rx="14" ry="8" fill="#fff" fill-opacity="0.7"/><ellipse cx="330" cy="188" rx="16" ry="8" fill="#fff" fill-opacity="0.7"/><ellipse cx="240" cy="240" rx="18" ry="10" fill="#fff" fill-opacity="0.7"/><ellipse cx="390" cy="225" rx="20" ry="9" fill="#fff" fill-opacity="0.5"/><ellipse cx="220" cy="195" rx="12" ry="8" fill="#fff" fill-opacity="0.5"/><ellipse cx="100" cy="190" rx="20" ry="12" fill="#fff" fill-opacity="0.35"/><ellipse cx="70" cy="120" rx="14" ry="5" fill="#fff" fill-opacity="0.7"/></g></g><g><g transform="translate(314,585) scale(0.13846)"><path d="M60,350 Q110,340 140,370 Q120,400 80,390 Z M200,350 Q240,340 260,370 Q240,400 210,390 Z M280,390 Q310,380 320,405 Q300,420 282,410 Z M180,430 Q230,420 260,450" fill="none" fill-opacity="1.0" stroke="#9a9a9a" stroke-width="0.4" vector-effect="non-scaling-stroke" stroke-linejoin="round"/></g></g></g>
<line x1="338.60" y1="587.80" x2="338.60" y2="653.00" stroke="#b77fc4" stroke-width="0.8" stroke-linecap="butt"/>
<line x1="317.00" y1="630.00" x2="382.40" y2="630.00" stroke="#b77fc4" stroke-width="0.8" stroke-linecap="butt"/>
<rect x="317.00" y="587.80" width="65.40" height="65.20" fill="none" stroke="#222" stroke-width="1.0" />
<line x1="317.00" y1="587.80" x2="317.00" y2="653.00" stroke="#111" stroke-width="1.5" stroke-linecap="butt"/>
<line x1="317.00" y1="653.00" x2="382.40" y2="653.00" stroke="#111" stroke-width="1.5" stroke-linecap="butt"/>
<line x1="314.80" y1="592.46" x2="317.00" y2="592.46" stroke="#111" stroke-width="0.9" stroke-linecap="butt"/>
<line x1="321.67" y1="653.00" x2="321.67" y2="655.20" stroke="#111" stroke-width="0.9" stroke-linecap="butt"/>
<line x1="314.80" y1="597.11" x2="317.00" y2="597.11" stroke="#111" stroke-width="0.9" stroke-linecap="butt"/>
<line x1="326.34" y1="653.00" x2="326.34" y2="655.20" stroke="#111" stroke-width="0.9" stroke-linecap="butt"/>
<line x1="314.80" y1="601.77" x2="317.00" y2="601.77" stroke="#111" stroke-width="0.9" stroke-linecap="butt"/>
<line x1="331.01" y1="653.00" x2="331.01" y2="655.20" stroke="#111" stroke-width="0.9" stroke-linecap="butt"/>
<line x1="314.80" y1="606.43" x2="317.00" y2="606.43" stroke="#111" stroke-width="0.9" stroke-linecap="butt"/>
<line x1="335.69" y1="653.00" x2="335.69" y2="655.20" stroke="#111" stroke-width="0.9" stroke-linecap="butt"/>
<line x1="314.80" y1="611.09" x2="317.00" y2="611.09" stroke="#111" stroke-width="0.9" stroke-linecap="butt"/>
<line x1="340.36" y1="653.00" x2="340.36" y2="655.20" stroke="#111" stroke-width="0.9" stroke-linecap="butt"/>
<line x1="314.80" y1="615.74" x2="317.00" y2="615.74" stroke="#111" stroke-width="0.9" stroke-linecap="butt"/>
<line x1="345.03" y1="653.00" x2="345.03" y2="655.20" stroke="#111" stroke-width="0.9" stroke-linecap="butt"/>
<line x1="314.80" y1="620.40" x2="317.00" y2="620.40" stroke="#111" stroke-width="0.9" stroke-linecap="butt"/>
<line x1="349.70" y1="653.00" x2="349.70" y2="655.20" stroke="#111" stroke-width="0.9" stroke-linecap="butt"/>
<line x1="314.80" y1="625.06" x2="317.00" y2="625.06" stroke="#111" stroke-width="0.9" stroke-linecap="butt"/>
<line x1="354.37" y1="653.00" x2="354.37" y2="655.20" stroke="#111" stroke-width="0.9" stroke-linecap="butt"/>
<line x1="314.80" y1="629.71" x2="317.00" y2="629.71" stroke="#111" stroke-width="0.9" stroke-linecap="butt"/>
<line x1="359.04" y1="653.00" x2="359.04" y2="655.20" stroke="#111" stroke-width="0.9" stroke-linecap="butt"/>
<line x1="314.80" y1="634.37" x2="317.00" y2="634.37" stroke="#111" stroke-width="0.9" stroke-linecap="butt"/>
<line x1="363.71" y1="653.00" x2="363.71" y2="655.20" stroke="#111" stroke-width="0.9" stroke-linecap="butt"/>
<line x1="314.80" y1="639.03" x2="317.00" y2="639.03" stroke="#111" stroke-width="0.9" stroke-linecap="butt"/>
<line x1="368.39" y1="653.00" x2="368.39" y2="655.20" stroke="#111" stroke-width="0.9" stroke-linecap="butt"/>
<line x1="314.80" y1="643.69" x2="317.00" y2="643.69" stroke="#111" stroke-width="0.9" stroke-linecap="butt"/>
<line x1="373.06" y1="653.00" x2="373.06" y2="655.20" stroke="#111" stroke-width="0.9" stroke-linecap="butt"/>
<line x1="314.80" y1="648.34" x2="317.00" y2="648.34" stroke="#111" stroke-width="0.9" stroke-linecap="butt"/>
<line x1="377.73" y1="653.00" x2="377.73" y2="655.20" stroke="#111" stroke-width="0.9" stroke-linecap="butt"/>
<text transform="translate(318.30,597.80)" text-anchor="start" fill="#111" stroke="#111" stroke-width="0.18" style="font-size:9.4px;">44.9</text>
<text transform="translate(382.70,597.80)" text-anchor="end" fill="#111" stroke="#111" stroke-width="0.18" style="font-size:9.4px;">44.3</text>
<text transform="translate(318.30,652.40)" text-anchor="start" fill="#111" stroke="#111" stroke-width="0.18" style="font-size:9.4px;">6.6</text>
<text transform="translate(382.70,652.40)" text-anchor="end" fill="#111" stroke="#111" stroke-width="0.18" style="font-size:9.4px;">4.23</text>
<line x1="305.70" y1="533.80" x2="305.70" y2="448.80" stroke="#222" stroke-width="1.1" stroke-linecap="butt"/>
<path d="M305.70,444.30 L303.20,449.80 L308.20,449.80Z" fill="#222"/>
<text transform="translate(309.00,551.00) rotate(-90) scale(0.92,1)" text-anchor="middle" fill="#111" stroke="#111" stroke-width="0.18" style="font-size:10.2px;">IgM</text>
<line x1="305.60" y1="566.30" x2="305.60" y2="653.90" stroke="#222" stroke-width="1.1" stroke-linecap="butt"/>
<line x1="320.40" y1="664.20" x2="331.20" y2="664.20" stroke="#222" stroke-width="1.1" stroke-linecap="butt"/>
<text transform="translate(349.00,668.20) scale(0.86,1)" text-anchor="middle" fill="#111" stroke="#111" stroke-width="0.18" style="font-size:10.2px;">CD138</text>
<line x1="366.20" y1="664.20" x2="377.50" y2="664.20" stroke="#222" stroke-width="1.1" stroke-linecap="butt"/>
<path d="M382.00,664.20 L376.50,661.70 L376.50,666.70Z" fill="#222"/>
<line x1="441.70" y1="450.30" x2="441.70" y2="562.30" stroke="#111" stroke-width="1.2" stroke-linecap="butt"/>
<line x1="441.10" y1="561.80" x2="513.80" y2="561.80" stroke="#111" stroke-width="1.2" stroke-linecap="butt"/>
<text transform="translate(434.40,452.50)" text-anchor="end" fill="#111" stroke="#111" stroke-width="0.18" style="font-size:5.4px;">3</text>
<text transform="translate(430.40,457.00)" text-anchor="end" fill="#111" stroke="#111" stroke-width="0.18" style="font-size:7.4px;">10</text>
<line x1="438.50" y1="453.80" x2="441.70" y2="453.80" stroke="#111" stroke-width="1.0" stroke-linecap="butt"/>
<text transform="translate(434.40,488.50)" text-anchor="end" fill="#111" stroke="#111" stroke-width="0.18" style="font-size:5.4px;">2</text>
<text transform="translate(430.40,493.00)" text-anchor="end" fill="#111" stroke="#111" stroke-width="0.18" style="font-size:7.4px;">10</text>
<line x1="438.50" y1="489.80" x2="441.70" y2="489.80" stroke="#111" stroke-width="1.0" stroke-linecap="butt"/>
<text transform="translate(434.40,524.50)" text-anchor="end" fill="#111" stroke="#111" stroke-width="0.18" style="font-size:5.4px;">1</text>
<text transform="translate(430.40,529.00)" text-anchor="end" fill="#111" stroke="#111" stroke-width="0.18" style="font-size:7.4px;">10</text>
<line x1="438.50" y1="525.80" x2="441.70" y2="525.80" stroke="#111" stroke-width="1.0" stroke-linecap="butt"/>
<text transform="translate(434.40,560.50)" text-anchor="end" fill="#111" stroke="#111" stroke-width="0.18" style="font-size:5.4px;">0</text>
<text transform="translate(430.40,565.00)" text-anchor="end" fill="#111" stroke="#111" stroke-width="0.18" style="font-size:7.4px;">10</text>
<line x1="438.50" y1="561.80" x2="441.70" y2="561.80" stroke="#111" stroke-width="1.0" stroke-linecap="butt"/>
<text transform="translate(415.00,503.00) rotate(-90) scale(0.98,1)" text-anchor="middle" fill="#111" stroke="#111" stroke-width="0.18" style="font-size:10.2px;"><tspan dy="0.00">Ig (µg/ml)</tspan></text>
<line x1="461.30" y1="435.00" x2="506.30" y2="435.00" stroke="#111" stroke-width="1.2" stroke-linecap="butt"/>
<line x1="461.30" y1="432.20" x2="461.30" y2="437.80" stroke="#111" stroke-width="1.2" stroke-linecap="butt"/>
<line x1="506.30" y1="432.20" x2="506.30" y2="437.80" stroke="#111" stroke-width="1.2" stroke-linecap="butt"/>
<text transform="translate(483.80,433.40)" text-anchor="middle" fill="#111" stroke="#111" stroke-width="0.18" style="font-size:8.5px;font-weight:bold;">***</text>
<line x1="461.30" y1="446.80" x2="484.50" y2="446.80" stroke="#111" stroke-width="1.2" stroke-linecap="butt"/>
<line x1="461.30" y1="444.00" x2="461.30" y2="449.60" stroke="#111" stroke-width="1.2" stroke-linecap="butt"/>
<line x1="484.50" y1="444.00" x2="484.50" y2="449.60" stroke="#111" stroke-width="1.2" stroke-linecap="butt"/>
<text transform="translate(472.50,445.20)" text-anchor="middle" fill="#111" stroke="#111" stroke-width="0.18" style="font-size:8.5px;font-weight:bold;">***</text>
<text transform="translate(446.30,460.50)" text-anchor="start" fill="#111" stroke="#111" stroke-width="0.18" style="font-size:8.2px;">IgM</text>
<circle cx="464.50" cy="457.50" r="2.6" fill="none" stroke="#111" stroke-width="1.2"/>
<text transform="translate(446.30,473.00)" text-anchor="start" fill="#111" stroke="#111" stroke-width="0.18" style="font-size:8.2px;">IgG</text>
<path d="M464.50,467.30 L461.65,472.55 L467.35,472.55Z" fill="none" stroke="#111" stroke-width="1.2" stroke-linejoin="miter"/>
<line x1="441.30" y1="565.80" x2="462.50" y2="565.80" stroke="#222" stroke-width="1.1" stroke-linecap="butt"/>
<line x1="465.00" y1="565.80" x2="487.00" y2="565.80" stroke="#222" stroke-width="1.1" stroke-linecap="butt"/>
<line x1="489.50" y1="565.80" x2="512.00" y2="565.80" stroke="#222" stroke-width="1.1" stroke-linecap="butt"/>
<text transform="translate(455.20,569.80) rotate(-90)" text-anchor="end" fill="#111" stroke="#111" stroke-width="0.18" style="font-size:8.4px;font-style:italic;">Wild Type</text>
<text transform="translate(479.80,569.80) rotate(-90)" text-anchor="end" fill="#111" stroke="#111" stroke-width="0.18" style="font-size:8.8px;font-style:italic;"><tspan dy="0.00">Unc93b1</tspan><tspan dy="-3.17" style="font-size:5.46px">3d/3d</tspan></text>
<text transform="translate(504.60,572.60) rotate(-90)" text-anchor="end" fill="#111" stroke="#111" stroke-width="0.18" style="font-size:8.2px;font-style:italic;"><tspan dy="0.00">Tlr9</tspan><tspan dy="-3.28" style="font-size:4.10px">-/-</tspan></text>
<circle cx="447.00" cy="518.30" r="2.0" fill="none" stroke="#111" stroke-width="1.1"/>
<circle cx="448.80" cy="520.80" r="2.0" fill="none" stroke="#111" stroke-width="1.1"/>
<circle cx="446.30" cy="524.50" r="2.0" fill="none" stroke="#111" stroke-width="1.1"/>
<line x1="443.30" y1="521.30" x2="450.80" y2="521.30" stroke="#111" stroke-width="1.5" stroke-linecap="butt"/>
<circle cx="455.50" cy="524.50" r="2.0" fill="none" stroke="#a80c2e" stroke-width="1.1"/>
<circle cx="460.50" cy="525.00" r="2.0" fill="none" stroke="#a80c2e" stroke-width="1.1"/>
<circle cx="462.00" cy="528.00" r="2.0" fill="none" stroke="#a80c2e" stroke-width="1.1"/>
<circle cx="456.80" cy="532.50" r="2.0" fill="none" stroke="#a80c2e" stroke-width="1.1"/>
<circle cx="470.80" cy="520.50" r="2.0" fill="none" stroke="#111" stroke-width="1.1"/>
<circle cx="470.00" cy="528.80" r="2.0" fill="none" stroke="#111" stroke-width="1.1"/>
<circle cx="472.00" cy="530.00" r="2.0" fill="none" stroke="#111" stroke-width="1.1"/>
<line x1="467.00" y1="526.30" x2="475.00" y2="526.30" stroke="#111" stroke-width="1.5" stroke-linecap="butt"/>
<circle cx="483.00" cy="457.50" r="2.0" fill="none" stroke="#a80c2e" stroke-width="1.1"/>
<circle cx="481.30" cy="463.00" r="2.0" fill="none" stroke="#a80c2e" stroke-width="1.1"/>
<circle cx="484.50" cy="464.50" r="2.0" fill="none" stroke="#a80c2e" stroke-width="1.1"/>
<circle cx="483.00" cy="468.80" r="2.0" fill="none" stroke="#a80c2e" stroke-width="1.1"/>
<line x1="479.50" y1="463.00" x2="487.00" y2="463.00" stroke="#a80c2e" stroke-width="1.5" stroke-linecap="butt"/>
<circle cx="495.50" cy="533.80" r="2.0" fill="none" stroke="#111" stroke-width="1.1"/>
<circle cx="494.50" cy="537.00" r="2.0" fill="none" stroke="#111" stroke-width="1.1"/>
<circle cx="497.50" cy="537.50" r="2.0" fill="none" stroke="#111" stroke-width="1.1"/>
<circle cx="496.30" cy="541.30" r="2.0" fill="none" stroke="#111" stroke-width="1.1"/>
<line x1="492.00" y1="538.20" x2="499.80" y2="538.20" stroke="#111" stroke-width="1.5" stroke-linecap="butt"/>
<circle cx="507.00" cy="466.80" r="2.0" fill="none" stroke="#a80c2e" stroke-width="1.1"/>
<circle cx="506.20" cy="491.50" r="2.0" fill="none" stroke="#a80c2e" stroke-width="1.1"/>
<circle cx="508.90" cy="492.00" r="2.0" fill="none" stroke="#a80c2e" stroke-width="1.1"/>
<circle cx="507.50" cy="496.40" r="2.0" fill="none" stroke="#a80c2e" stroke-width="1.1"/>
<line x1="503.30" y1="481.80" x2="511.30" y2="481.80" stroke="#a80c2e" stroke-width="1.5" stroke-linecap="butt"/>
<path d="M447.00,537.70 L444.81,541.73 L449.19,541.73Z" fill="none" stroke="#111" stroke-width="1.2" stroke-linejoin="miter"/>
<path d="M447.00,551.50 L444.81,555.52 L449.19,555.52Z" fill="none" stroke="#111" stroke-width="1.2" stroke-linejoin="miter"/>
<path d="M444.50,558.70 L442.31,562.73 L446.69,562.73Z" fill="none" stroke="#111" stroke-width="1.2" stroke-linejoin="miter"/>
<path d="M450.00,558.70 L447.81,562.73 L452.19,562.73Z" fill="none" stroke="#111" stroke-width="1.2" stroke-linejoin="miter"/>
<line x1="443.30" y1="550.80" x2="450.80" y2="550.80" stroke="#111" stroke-width="1.5" stroke-linecap="butt"/>
<path d="M458.80,545.70 L456.62,549.73 L460.99,549.73Z" fill="none" stroke="#a80c2e" stroke-width="1.2" stroke-linejoin="miter"/>
<path d="M458.80,552.70 L456.62,556.73 L460.99,556.73Z" fill="none" stroke="#a80c2e" stroke-width="1.2" stroke-linejoin="miter"/>
<path d="M457.50,555.20 L455.31,559.23 L459.69,559.23Z" fill="none" stroke="#a80c2e" stroke-width="1.2" stroke-linejoin="miter"/>
<path d="M460.30,555.20 L458.12,559.23 L462.49,559.23Z" fill="none" stroke="#a80c2e" stroke-width="1.2" stroke-linejoin="miter"/>
<path d="M458.80,558.70 L456.62,562.73 L460.99,562.73Z" fill="none" stroke="#a80c2e" stroke-width="1.2" stroke-linejoin="miter"/>
<line x1="455.30" y1="555.00" x2="462.50" y2="555.00" stroke="#a80c2e" stroke-width="1.5" stroke-linecap="butt"/>
<path d="M470.80,538.00 L468.62,542.02 L472.99,542.02Z" fill="none" stroke="#111" stroke-width="1.2" stroke-linejoin="miter"/>
<path d="M470.80,558.70 L468.62,562.73 L472.99,562.73Z" fill="none" stroke="#111" stroke-width="1.2" stroke-linejoin="miter"/>
<line x1="467.00" y1="553.00" x2="475.00" y2="553.00" stroke="#111" stroke-width="1.5" stroke-linecap="butt"/>
<path d="M483.00,538.70 L480.81,542.73 L485.19,542.73Z" fill="none" stroke="#a80c2e" stroke-width="1.2" stroke-linejoin="miter"/>
<path d="M481.80,542.20 L479.62,546.23 L483.99,546.23Z" fill="none" stroke="#a80c2e" stroke-width="1.2" stroke-linejoin="miter"/>
<path d="M484.50,542.20 L482.31,546.23 L486.69,546.23Z" fill="none" stroke="#a80c2e" stroke-width="1.2" stroke-linejoin="miter"/>
<path d="M483.00,544.90 L480.81,548.93 L485.19,548.93Z" fill="none" stroke="#a80c2e" stroke-width="1.2" stroke-linejoin="miter"/>
<line x1="479.50" y1="544.00" x2="487.00" y2="544.00" stroke="#a80c2e" stroke-width="1.5" stroke-linecap="butt"/>
<path d="M492.00,558.70 L489.81,562.73 L494.19,562.73Z" fill="none" stroke="#111" stroke-width="1.2" stroke-linejoin="miter"/>
<path d="M495.00,558.70 L492.81,562.73 L497.19,562.73Z" fill="none" stroke="#111" stroke-width="1.2" stroke-linejoin="miter"/>
<path d="M498.00,558.70 L495.81,562.73 L500.19,562.73Z" fill="none" stroke="#111" stroke-width="1.2" stroke-linejoin="miter"/>
<path d="M507.00,536.50 L504.81,540.52 L509.19,540.52Z" fill="none" stroke="#a80c2e" stroke-width="1.2" stroke-linejoin="miter"/>
<path d="M505.50,543.70 L503.31,547.73 L507.69,547.73Z" fill="none" stroke="#a80c2e" stroke-width="1.2" stroke-linejoin="miter"/>
<path d="M508.80,544.70 L506.62,548.73 L510.99,548.73Z" fill="none" stroke="#a80c2e" stroke-width="1.2" stroke-linejoin="miter"/>
<path d="M510.50,547.20 L508.31,551.23 L512.68,551.23Z" fill="none" stroke="#a80c2e" stroke-width="1.2" stroke-linejoin="miter"/>
<path d="M505.00,551.70 L502.81,555.73 L507.19,555.73Z" fill="none" stroke="#a80c2e" stroke-width="1.2" stroke-linejoin="miter"/>
<line x1="503.30" y1="546.00" x2="511.30" y2="546.00" stroke="#a80c2e" stroke-width="1.5" stroke-linecap="butt"/>
<rect x="435.00" y="626.30" width="10.00" height="9.20" fill="#0a0a0a" />
<text transform="translate(448.30,634.30)" text-anchor="start" fill="#111" stroke="#111" stroke-width="0.18" style="font-size:7.6px;">Empty Vector</text>
<rect x="435.00" y="641.20" width="10.00" height="9.00" fill="#a80c2e" />
<text transform="translate(448.30,649.00)" text-anchor="start" fill="#111" stroke="#111" stroke-width="0.18" style="font-size:7.6px;font-style:italic;"><tspan dy="0.00">MYD88</tspan><tspan dy="-2.74" style="font-size:4.71px">L265P</tspan></text>
</svg>
<div id="bb"></div><div id="br"></div>
</div>
</body></html>
